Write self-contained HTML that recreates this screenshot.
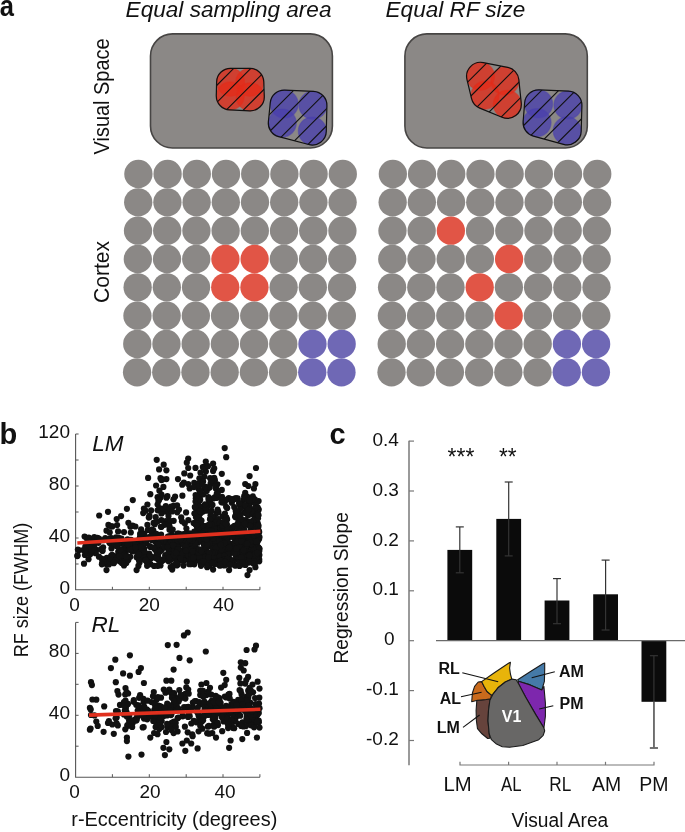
<!DOCTYPE html>
<html lang="en"><head><meta charset="utf-8"><title>Figure</title>
<style>html,body{margin:0;padding:0;background:#fff;}body{width:685px;height:832px;overflow:hidden;font-family:"Liberation Sans",sans-serif;}svg{display:block}</style>
</head><body>
<svg width="685" height="832" viewBox="0 0 685 832" font-family="Liberation Sans, sans-serif">
<text x="-0.3" y="16.2" font-size="29" text-anchor="start" fill="#111" font-weight="bold" textLength="14.2" lengthAdjust="spacingAndGlyphs">a</text>
<text x="125.6" y="16.8" font-size="22.5" text-anchor="start" fill="#111" font-style="italic" textLength="205.9" lengthAdjust="spacingAndGlyphs">Equal sampling area</text>
<text x="385.6" y="16.8" font-size="22.5" text-anchor="start" fill="#111" font-style="italic" textLength="139.8" lengthAdjust="spacingAndGlyphs">Equal RF size</text>
<text x="109.2" y="154.4" font-size="22" text-anchor="start" fill="#111" textLength="116.0" lengthAdjust="spacingAndGlyphs" transform="rotate(-90 109.2 154.4)">Visual Space</text>
<text x="109.5" y="302.9" font-size="22" text-anchor="start" fill="#111" textLength="62.0" lengthAdjust="spacingAndGlyphs" transform="rotate(-90 109.5 302.9)">Cortex</text>
<rect x="150.5" y="33.9" width="181.9" height="114.1" rx="22" ry="22" fill="#8b8886" stroke="#474544" stroke-width="1.6"/>
<rect x="404.9" y="33.9" width="182.4" height="114.1" rx="22" ry="22" fill="#8b8886" stroke="#474544" stroke-width="1.6"/>
<clipPath id="c1"><path d="M216.30,95.59L216.60,81.99A14.0,14.0 0 0 1 230.60,68.30L249.80,68.30A14.0,14.0 0 0 1 263.79,81.82L264.29,96.32A14.0,14.0 0 0 1 249.67,110.79L229.67,109.89A14.0,14.0 0 0 1 216.30,95.59Z"/></clipPath>
<circle cx="230.6" cy="82.3" r="14.0" fill="#e32c1a" fill-opacity="0.78" stroke="#e32c1a" stroke-opacity="0.45" stroke-width="1.2"/>
<circle cx="249.8" cy="82.3" r="14.0" fill="#e32c1a" fill-opacity="0.78" stroke="#e32c1a" stroke-opacity="0.45" stroke-width="1.2"/>
<circle cx="230.3" cy="95.9" r="14.0" fill="#e32c1a" fill-opacity="0.78" stroke="#e32c1a" stroke-opacity="0.45" stroke-width="1.2"/>
<circle cx="250.3" cy="96.8" r="14.0" fill="#e32c1a" fill-opacity="0.78" stroke="#e32c1a" stroke-opacity="0.45" stroke-width="1.2"/>
<g clip-path="url(#c1)" stroke="#111" stroke-width="1.1"><line x1="155.1" y1="112.8" x2="201.6" y2="66.3"/><line x1="172.2" y1="112.8" x2="218.7" y2="66.3"/><line x1="189.3" y1="112.8" x2="235.8" y2="66.3"/><line x1="206.4" y1="112.8" x2="252.9" y2="66.3"/><line x1="223.5" y1="112.8" x2="270.0" y2="66.3"/><line x1="240.6" y1="112.8" x2="287.1" y2="66.3"/><line x1="257.7" y1="112.8" x2="304.2" y2="66.3"/><line x1="274.8" y1="112.8" x2="321.3" y2="66.3"/></g>
<path d="M216.30,95.59L216.60,81.99A14.0,14.0 0 0 1 230.60,68.30L249.80,68.30A14.0,14.0 0 0 1 263.79,81.82L264.29,96.32A14.0,14.0 0 0 1 249.67,110.79L229.67,109.89A14.0,14.0 0 0 1 216.30,95.59Z" fill="none" stroke="#111" stroke-width="1.2"/>
<clipPath id="c2"><path d="M268.37,121.71L270.27,102.71A14.0,14.0 0 0 1 284.78,90.11L313.48,91.31A14.0,14.0 0 0 1 326.90,105.63L326.30,131.33A14.0,14.0 0 0 1 308.73,144.54L278.73,136.64A14.0,14.0 0 0 1 268.37,121.71Z"/></clipPath>
<circle cx="284.2" cy="104.1" r="14.0" fill="#4a40ad" fill-opacity="0.78" stroke="#4a40ad" stroke-opacity="0.45" stroke-width="1.2"/>
<circle cx="312.9" cy="105.3" r="14.0" fill="#4a40ad" fill-opacity="0.78" stroke="#4a40ad" stroke-opacity="0.45" stroke-width="1.2"/>
<circle cx="282.3" cy="123.1" r="14.0" fill="#4a40ad" fill-opacity="0.78" stroke="#4a40ad" stroke-opacity="0.45" stroke-width="1.2"/>
<circle cx="312.3" cy="131.0" r="14.0" fill="#4a40ad" fill-opacity="0.78" stroke="#4a40ad" stroke-opacity="0.45" stroke-width="1.2"/>
<g clip-path="url(#c2)" stroke="#111" stroke-width="1.1"><line x1="202.8" y1="147.0" x2="261.7" y2="88.1"/><line x1="219.9" y1="147.0" x2="278.8" y2="88.1"/><line x1="237.0" y1="147.0" x2="295.9" y2="88.1"/><line x1="254.1" y1="147.0" x2="313.0" y2="88.1"/><line x1="271.2" y1="147.0" x2="330.1" y2="88.1"/><line x1="288.3" y1="147.0" x2="347.2" y2="88.1"/><line x1="305.4" y1="147.0" x2="364.3" y2="88.1"/><line x1="322.5" y1="147.0" x2="381.4" y2="88.1"/><line x1="339.6" y1="147.0" x2="398.5" y2="88.1"/></g>
<path d="M268.37,121.71L270.27,102.71A14.0,14.0 0 0 1 284.78,90.11L313.48,91.31A14.0,14.0 0 0 1 326.90,105.63L326.30,131.33A14.0,14.0 0 0 1 308.73,144.54L278.73,136.64A14.0,14.0 0 0 1 268.37,121.71Z" fill="none" stroke="#111" stroke-width="1.2"/>
<clipPath id="c3"><path d="M483.31,62.57L507.61,67.37A14.0,14.0 0 0 1 518.83,79.66L521.23,102.86A14.0,14.0 0 0 1 501.99,117.25L479.79,108.15A14.0,14.0 0 0 1 471.48,98.44L466.98,79.54A14.0,14.0 0 0 1 483.31,62.57Z"/></clipPath>
<circle cx="480.6" cy="76.3" r="14.0" fill="#e32c1a" fill-opacity="0.78" stroke="#e32c1a" stroke-opacity="0.45" stroke-width="1.2"/>
<circle cx="504.9" cy="81.1" r="14.0" fill="#e32c1a" fill-opacity="0.78" stroke="#e32c1a" stroke-opacity="0.45" stroke-width="1.2"/>
<circle cx="485.1" cy="95.2" r="14.0" fill="#e32c1a" fill-opacity="0.78" stroke="#e32c1a" stroke-opacity="0.45" stroke-width="1.2"/>
<circle cx="507.3" cy="104.3" r="14.0" fill="#e32c1a" fill-opacity="0.78" stroke="#e32c1a" stroke-opacity="0.45" stroke-width="1.2"/>
<g clip-path="url(#c3)" stroke="#111" stroke-width="1.1"><line x1="395.3" y1="120.3" x2="455.3" y2="60.3"/><line x1="412.4" y1="120.3" x2="472.4" y2="60.3"/><line x1="429.5" y1="120.3" x2="489.5" y2="60.3"/><line x1="446.6" y1="120.3" x2="506.6" y2="60.3"/><line x1="463.7" y1="120.3" x2="523.7" y2="60.3"/><line x1="480.8" y1="120.3" x2="540.8" y2="60.3"/><line x1="497.9" y1="120.3" x2="557.9" y2="60.3"/><line x1="515.0" y1="120.3" x2="575.0" y2="60.3"/><line x1="532.1" y1="120.3" x2="592.1" y2="60.3"/></g>
<path d="M483.31,62.57L507.61,67.37A14.0,14.0 0 0 1 518.83,79.66L521.23,102.86A14.0,14.0 0 0 1 501.99,117.25L479.79,108.15A14.0,14.0 0 0 1 471.48,98.44L466.98,79.54A14.0,14.0 0 0 1 483.31,62.57Z" fill="none" stroke="#111" stroke-width="1.2"/>
<clipPath id="c4"><path d="M523.14,121.48L524.64,102.78A14.0,14.0 0 0 1 539.17,89.91L568.47,91.11A14.0,14.0 0 0 1 581.89,105.48L581.19,131.18A14.0,14.0 0 0 1 563.52,144.31L533.42,136.11A14.0,14.0 0 0 1 523.14,121.48Z"/></clipPath>
<circle cx="538.6" cy="103.9" r="14.0" fill="#4a40ad" fill-opacity="0.78" stroke="#4a40ad" stroke-opacity="0.45" stroke-width="1.2"/>
<circle cx="567.9" cy="105.1" r="14.0" fill="#4a40ad" fill-opacity="0.78" stroke="#4a40ad" stroke-opacity="0.45" stroke-width="1.2"/>
<circle cx="537.1" cy="122.6" r="14.0" fill="#4a40ad" fill-opacity="0.78" stroke="#4a40ad" stroke-opacity="0.45" stroke-width="1.2"/>
<circle cx="567.2" cy="130.8" r="14.0" fill="#4a40ad" fill-opacity="0.78" stroke="#4a40ad" stroke-opacity="0.45" stroke-width="1.2"/>
<g clip-path="url(#c4)" stroke="#111" stroke-width="1.1"><line x1="451.0" y1="146.8" x2="509.9" y2="87.9"/><line x1="468.1" y1="146.8" x2="527.0" y2="87.9"/><line x1="485.2" y1="146.8" x2="544.1" y2="87.9"/><line x1="502.3" y1="146.8" x2="561.2" y2="87.9"/><line x1="519.4" y1="146.8" x2="578.3" y2="87.9"/><line x1="536.5" y1="146.8" x2="595.4" y2="87.9"/><line x1="553.6" y1="146.8" x2="612.5" y2="87.9"/><line x1="570.7" y1="146.8" x2="629.6" y2="87.9"/><line x1="587.8" y1="146.8" x2="646.7" y2="87.9"/></g>
<path d="M523.14,121.48L524.64,102.78A14.0,14.0 0 0 1 539.17,89.91L568.47,91.11A14.0,14.0 0 0 1 581.89,105.48L581.19,131.18A14.0,14.0 0 0 1 563.52,144.31L533.42,136.11A14.0,14.0 0 0 1 523.14,121.48Z" fill="none" stroke="#111" stroke-width="1.2"/>
<circle cx="138.40" cy="174.00" r="14.15" fill="#8b8886"/>
<circle cx="167.60" cy="174.00" r="14.15" fill="#8b8886"/>
<circle cx="196.80" cy="174.00" r="14.15" fill="#8b8886"/>
<circle cx="226.00" cy="174.00" r="14.15" fill="#8b8886"/>
<circle cx="255.20" cy="174.00" r="14.15" fill="#8b8886"/>
<circle cx="284.40" cy="174.00" r="14.15" fill="#8b8886"/>
<circle cx="313.60" cy="174.00" r="14.15" fill="#8b8886"/>
<circle cx="342.80" cy="174.00" r="14.15" fill="#8b8886"/>
<circle cx="138.21" cy="202.33" r="14.15" fill="#8b8886"/>
<circle cx="167.41" cy="202.33" r="14.15" fill="#8b8886"/>
<circle cx="196.61" cy="202.33" r="14.15" fill="#8b8886"/>
<circle cx="225.81" cy="202.33" r="14.15" fill="#8b8886"/>
<circle cx="255.01" cy="202.33" r="14.15" fill="#8b8886"/>
<circle cx="284.21" cy="202.33" r="14.15" fill="#8b8886"/>
<circle cx="313.41" cy="202.33" r="14.15" fill="#8b8886"/>
<circle cx="342.61" cy="202.33" r="14.15" fill="#8b8886"/>
<circle cx="138.02" cy="230.66" r="14.15" fill="#8b8886"/>
<circle cx="167.22" cy="230.66" r="14.15" fill="#8b8886"/>
<circle cx="196.42" cy="230.66" r="14.15" fill="#8b8886"/>
<circle cx="225.62" cy="230.66" r="14.15" fill="#8b8886"/>
<circle cx="254.82" cy="230.66" r="14.15" fill="#8b8886"/>
<circle cx="284.02" cy="230.66" r="14.15" fill="#8b8886"/>
<circle cx="313.22" cy="230.66" r="14.15" fill="#8b8886"/>
<circle cx="342.42" cy="230.66" r="14.15" fill="#8b8886"/>
<circle cx="137.83" cy="258.99" r="14.15" fill="#8b8886"/>
<circle cx="167.03" cy="258.99" r="14.15" fill="#8b8886"/>
<circle cx="196.23" cy="258.99" r="14.15" fill="#8b8886"/>
<circle cx="225.43" cy="258.99" r="14.15" fill="#e15546"/>
<circle cx="254.63" cy="258.99" r="14.15" fill="#e15546"/>
<circle cx="283.83" cy="258.99" r="14.15" fill="#8b8886"/>
<circle cx="313.03" cy="258.99" r="14.15" fill="#8b8886"/>
<circle cx="342.23" cy="258.99" r="14.15" fill="#8b8886"/>
<circle cx="137.64" cy="287.32" r="14.15" fill="#8b8886"/>
<circle cx="166.84" cy="287.32" r="14.15" fill="#8b8886"/>
<circle cx="196.04" cy="287.32" r="14.15" fill="#8b8886"/>
<circle cx="225.24" cy="287.32" r="14.15" fill="#e15546"/>
<circle cx="254.44" cy="287.32" r="14.15" fill="#e15546"/>
<circle cx="283.64" cy="287.32" r="14.15" fill="#8b8886"/>
<circle cx="312.84" cy="287.32" r="14.15" fill="#8b8886"/>
<circle cx="342.04" cy="287.32" r="14.15" fill="#8b8886"/>
<circle cx="137.45" cy="315.65" r="14.15" fill="#8b8886"/>
<circle cx="166.65" cy="315.65" r="14.15" fill="#8b8886"/>
<circle cx="195.85" cy="315.65" r="14.15" fill="#8b8886"/>
<circle cx="225.05" cy="315.65" r="14.15" fill="#8b8886"/>
<circle cx="254.25" cy="315.65" r="14.15" fill="#8b8886"/>
<circle cx="283.45" cy="315.65" r="14.15" fill="#8b8886"/>
<circle cx="312.65" cy="315.65" r="14.15" fill="#8b8886"/>
<circle cx="341.85" cy="315.65" r="14.15" fill="#8b8886"/>
<circle cx="137.26" cy="343.98" r="14.15" fill="#8b8886"/>
<circle cx="166.46" cy="343.98" r="14.15" fill="#8b8886"/>
<circle cx="195.66" cy="343.98" r="14.15" fill="#8b8886"/>
<circle cx="224.86" cy="343.98" r="14.15" fill="#8b8886"/>
<circle cx="254.06" cy="343.98" r="14.15" fill="#8b8886"/>
<circle cx="283.26" cy="343.98" r="14.15" fill="#8b8886"/>
<circle cx="312.46" cy="343.98" r="14.15" fill="#6f68b5"/>
<circle cx="341.66" cy="343.98" r="14.15" fill="#6f68b5"/>
<circle cx="137.07" cy="372.31" r="14.15" fill="#8b8886"/>
<circle cx="166.27" cy="372.31" r="14.15" fill="#8b8886"/>
<circle cx="195.47" cy="372.31" r="14.15" fill="#8b8886"/>
<circle cx="224.67" cy="372.31" r="14.15" fill="#8b8886"/>
<circle cx="253.87" cy="372.31" r="14.15" fill="#8b8886"/>
<circle cx="283.07" cy="372.31" r="14.15" fill="#8b8886"/>
<circle cx="312.27" cy="372.31" r="14.15" fill="#6f68b5"/>
<circle cx="341.47" cy="372.31" r="14.15" fill="#6f68b5"/>
<circle cx="392.85" cy="174.00" r="14.15" fill="#8b8886"/>
<circle cx="422.05" cy="174.00" r="14.15" fill="#8b8886"/>
<circle cx="451.25" cy="174.00" r="14.15" fill="#8b8886"/>
<circle cx="480.45" cy="174.00" r="14.15" fill="#8b8886"/>
<circle cx="509.65" cy="174.00" r="14.15" fill="#8b8886"/>
<circle cx="538.85" cy="174.00" r="14.15" fill="#8b8886"/>
<circle cx="568.05" cy="174.00" r="14.15" fill="#8b8886"/>
<circle cx="597.25" cy="174.00" r="14.15" fill="#8b8886"/>
<circle cx="392.66" cy="202.33" r="14.15" fill="#8b8886"/>
<circle cx="421.86" cy="202.33" r="14.15" fill="#8b8886"/>
<circle cx="451.06" cy="202.33" r="14.15" fill="#8b8886"/>
<circle cx="480.26" cy="202.33" r="14.15" fill="#8b8886"/>
<circle cx="509.46" cy="202.33" r="14.15" fill="#8b8886"/>
<circle cx="538.66" cy="202.33" r="14.15" fill="#8b8886"/>
<circle cx="567.86" cy="202.33" r="14.15" fill="#8b8886"/>
<circle cx="597.06" cy="202.33" r="14.15" fill="#8b8886"/>
<circle cx="392.47" cy="230.66" r="14.15" fill="#8b8886"/>
<circle cx="421.67" cy="230.66" r="14.15" fill="#8b8886"/>
<circle cx="450.87" cy="230.66" r="14.15" fill="#e15546"/>
<circle cx="480.07" cy="230.66" r="14.15" fill="#8b8886"/>
<circle cx="509.27" cy="230.66" r="14.15" fill="#8b8886"/>
<circle cx="538.47" cy="230.66" r="14.15" fill="#8b8886"/>
<circle cx="567.67" cy="230.66" r="14.15" fill="#8b8886"/>
<circle cx="596.87" cy="230.66" r="14.15" fill="#8b8886"/>
<circle cx="392.28" cy="258.99" r="14.15" fill="#8b8886"/>
<circle cx="421.48" cy="258.99" r="14.15" fill="#8b8886"/>
<circle cx="450.68" cy="258.99" r="14.15" fill="#8b8886"/>
<circle cx="479.88" cy="258.99" r="14.15" fill="#8b8886"/>
<circle cx="509.08" cy="258.99" r="14.15" fill="#e15546"/>
<circle cx="538.28" cy="258.99" r="14.15" fill="#8b8886"/>
<circle cx="567.48" cy="258.99" r="14.15" fill="#8b8886"/>
<circle cx="596.68" cy="258.99" r="14.15" fill="#8b8886"/>
<circle cx="392.09" cy="287.32" r="14.15" fill="#8b8886"/>
<circle cx="421.29" cy="287.32" r="14.15" fill="#8b8886"/>
<circle cx="450.49" cy="287.32" r="14.15" fill="#8b8886"/>
<circle cx="479.69" cy="287.32" r="14.15" fill="#e15546"/>
<circle cx="508.89" cy="287.32" r="14.15" fill="#8b8886"/>
<circle cx="538.09" cy="287.32" r="14.15" fill="#8b8886"/>
<circle cx="567.29" cy="287.32" r="14.15" fill="#8b8886"/>
<circle cx="596.49" cy="287.32" r="14.15" fill="#8b8886"/>
<circle cx="391.90" cy="315.65" r="14.15" fill="#8b8886"/>
<circle cx="421.10" cy="315.65" r="14.15" fill="#8b8886"/>
<circle cx="450.30" cy="315.65" r="14.15" fill="#8b8886"/>
<circle cx="479.50" cy="315.65" r="14.15" fill="#8b8886"/>
<circle cx="508.70" cy="315.65" r="14.15" fill="#e15546"/>
<circle cx="537.90" cy="315.65" r="14.15" fill="#8b8886"/>
<circle cx="567.10" cy="315.65" r="14.15" fill="#8b8886"/>
<circle cx="596.30" cy="315.65" r="14.15" fill="#8b8886"/>
<circle cx="391.71" cy="343.98" r="14.15" fill="#8b8886"/>
<circle cx="420.91" cy="343.98" r="14.15" fill="#8b8886"/>
<circle cx="450.11" cy="343.98" r="14.15" fill="#8b8886"/>
<circle cx="479.31" cy="343.98" r="14.15" fill="#8b8886"/>
<circle cx="508.51" cy="343.98" r="14.15" fill="#8b8886"/>
<circle cx="537.71" cy="343.98" r="14.15" fill="#8b8886"/>
<circle cx="566.91" cy="343.98" r="14.15" fill="#6f68b5"/>
<circle cx="596.11" cy="343.98" r="14.15" fill="#6f68b5"/>
<circle cx="391.52" cy="372.31" r="14.15" fill="#8b8886"/>
<circle cx="420.72" cy="372.31" r="14.15" fill="#8b8886"/>
<circle cx="449.92" cy="372.31" r="14.15" fill="#8b8886"/>
<circle cx="479.12" cy="372.31" r="14.15" fill="#8b8886"/>
<circle cx="508.32" cy="372.31" r="14.15" fill="#8b8886"/>
<circle cx="537.52" cy="372.31" r="14.15" fill="#8b8886"/>
<circle cx="566.72" cy="372.31" r="14.15" fill="#6f68b5"/>
<circle cx="595.92" cy="372.31" r="14.15" fill="#6f68b5"/>
<text x="-0.6" y="443.6" font-size="29" text-anchor="start" fill="#111" font-weight="bold">b</text>
<path d="M75.6,434.0V589.8H259.9" fill="none" stroke="#555" stroke-width="1.1"/>
<line x1="75.6" y1="434.0" x2="78.6" y2="434.0" stroke="#555" stroke-width="1"/>
<line x1="75.6" y1="460.0" x2="78.6" y2="460.0" stroke="#555" stroke-width="1"/>
<line x1="75.6" y1="486.0" x2="78.6" y2="486.0" stroke="#555" stroke-width="1"/>
<line x1="75.6" y1="512.0" x2="78.6" y2="512.0" stroke="#555" stroke-width="1"/>
<line x1="75.6" y1="538.0" x2="78.6" y2="538.0" stroke="#555" stroke-width="1"/>
<line x1="75.6" y1="564.0" x2="78.6" y2="564.0" stroke="#555" stroke-width="1"/>
<line x1="112.4" y1="589.8" x2="112.4" y2="586.8" stroke="#555" stroke-width="1"/>
<line x1="149.3" y1="589.8" x2="149.3" y2="586.8" stroke="#555" stroke-width="1"/>
<line x1="186.2" y1="589.8" x2="186.2" y2="586.8" stroke="#555" stroke-width="1"/>
<line x1="223.0" y1="589.8" x2="223.0" y2="586.8" stroke="#555" stroke-width="1"/>
<line x1="259.9" y1="589.8" x2="259.9" y2="586.8" stroke="#555" stroke-width="1"/>
<text x="70.0" y="437.5" font-size="19" text-anchor="end" fill="#111">120</text>
<text x="70.0" y="489.5" font-size="19" text-anchor="end" fill="#111">80</text>
<text x="70.0" y="541.5" font-size="19" text-anchor="end" fill="#111">40</text>
<text x="70.0" y="593.5" font-size="19" text-anchor="end" fill="#111">0</text>
<text x="74.5" y="611.3" font-size="19" text-anchor="middle" fill="#111">0</text>
<text x="149.3" y="611.3" font-size="19" text-anchor="middle" fill="#111">20</text>
<text x="223.5" y="611.3" font-size="19" text-anchor="middle" fill="#111">40</text>
<text x="92.3" y="451.2" font-size="22.5" text-anchor="start" fill="#111" font-style="italic">LM</text>
<text x="27.6" y="657.3" font-size="20" text-anchor="start" fill="#111" textLength="134.6" lengthAdjust="spacingAndGlyphs" transform="rotate(-90 27.6 657.3)">RF size (FWHM)</text>
<g fill="#111"><circle cx="224.7" cy="448.1" r="3.1"/><circle cx="226.2" cy="457.2" r="3.1"/><circle cx="156.7" cy="459.8" r="3.1"/><circle cx="188.2" cy="458.6" r="3.1"/><circle cx="186.8" cy="462.7" r="3.1"/><circle cx="188.2" cy="468.0" r="3.1"/><circle cx="205.8" cy="461.5" r="3.1"/><circle cx="213.1" cy="463.6" r="3.1"/><circle cx="204.3" cy="466.5" r="3.1"/><circle cx="256.0" cy="468.0" r="3.1"/><circle cx="159.1" cy="469.4" r="3.1"/><circle cx="166.4" cy="470.3" r="3.1"/><circle cx="213.1" cy="470.9" r="3.1"/><circle cx="221.8" cy="473.8" r="3.1"/><circle cx="249.6" cy="476.1" r="3.1"/><circle cx="204.3" cy="476.7" r="3.1"/><circle cx="160.5" cy="478.2" r="3.1"/><circle cx="166.4" cy="479.1" r="3.1"/><circle cx="178.0" cy="479.1" r="3.1"/><circle cx="210.1" cy="478.2" r="3.1"/><circle cx="183.9" cy="482.6" r="3.1"/><circle cx="188.2" cy="484.0" r="3.1"/><circle cx="198.5" cy="484.0" r="3.1"/><circle cx="227.7" cy="482.6" r="3.1"/><circle cx="245.2" cy="484.0" r="3.1"/><circle cx="255.4" cy="484.0" r="3.1"/><circle cx="156.1" cy="485.5" r="3.1"/><circle cx="163.4" cy="486.9" r="3.1"/><circle cx="189.7" cy="488.4" r="3.1"/><circle cx="204.3" cy="488.4" r="3.1"/><circle cx="216.0" cy="488.4" r="3.1"/><circle cx="221.8" cy="489.9" r="3.1"/><circle cx="150.3" cy="494.2" r="3.1"/><circle cx="157.6" cy="497.2" r="3.1"/><circle cx="182.4" cy="495.7" r="3.1"/><circle cx="132.8" cy="500.1" r="3.1"/><circle cx="245.2" cy="492.8" r="3.1"/><circle cx="253.9" cy="488.4" r="3.1"/><circle cx="147.4" cy="504.5" r="3.1"/><circle cx="157.6" cy="504.5" r="3.1"/><circle cx="173.6" cy="505.9" r="3.1"/><circle cx="170.7" cy="508.8" r="3.1"/><circle cx="126.9" cy="508.8" r="3.1"/><circle cx="108.0" cy="511.8" r="3.1"/><circle cx="157.6" cy="510.3" r="3.1"/><circle cx="99.2" cy="515.5" r="3.1"/><circle cx="121.1" cy="516.1" r="3.1"/><circle cx="116.7" cy="519.1" r="3.1"/><circle cx="128.4" cy="522.8" r="3.1"/><circle cx="148.8" cy="517.6" r="3.1"/><circle cx="147.4" cy="524.9" r="3.1"/><circle cx="112.3" cy="526.4" r="3.1"/><circle cx="106.5" cy="530.7" r="3.1"/><circle cx="84.6" cy="536.6" r="3.1"/><circle cx="78.8" cy="550.3" r="3.1"/><circle cx="77.3" cy="556.1" r="3.1"/><circle cx="84.0" cy="563.7" r="3.1"/><circle cx="106.5" cy="570.1" r="3.1"/><circle cx="136.6" cy="570.1" r="3.1"/><circle cx="172.2" cy="569.6" r="3.1"/><circle cx="170.7" cy="567.2" r="3.1"/><circle cx="157.6" cy="565.8" r="3.1"/><circle cx="213.1" cy="569.6" r="3.1"/><circle cx="229.1" cy="570.1" r="3.1"/><circle cx="247.5" cy="575.1" r="3.1"/><circle cx="249.6" cy="570.1" r="3.1"/><circle cx="255.4" cy="567.2" r="3.1"/><circle cx="189.7" cy="562.8" r="3.1"/><circle cx="207.2" cy="567.2" r="3.1"/><circle cx="135.3" cy="546.9" r="3.1"/><circle cx="143.0" cy="551.1" r="3.1"/><circle cx="88.5" cy="559.2" r="3.1"/><circle cx="98.4" cy="542.8" r="3.1"/><circle cx="233.8" cy="561.2" r="3.1"/><circle cx="226.0" cy="546.7" r="3.1"/><circle cx="193.3" cy="547.8" r="3.1"/><circle cx="87.2" cy="545.7" r="3.1"/><circle cx="154.4" cy="548.8" r="3.1"/><circle cx="159.1" cy="542.7" r="3.1"/><circle cx="204.4" cy="546.9" r="3.1"/><circle cx="216.5" cy="536.9" r="3.1"/><circle cx="185.1" cy="550.8" r="3.1"/><circle cx="230.4" cy="550.2" r="3.1"/><circle cx="198.0" cy="542.7" r="3.1"/><circle cx="227.0" cy="553.2" r="3.1"/><circle cx="198.8" cy="550.6" r="3.1"/><circle cx="106.6" cy="564.2" r="3.1"/><circle cx="226.6" cy="556.7" r="3.1"/><circle cx="152.1" cy="540.1" r="3.1"/><circle cx="252.1" cy="560.1" r="3.1"/><circle cx="118.3" cy="551.8" r="3.1"/><circle cx="251.2" cy="548.9" r="3.1"/><circle cx="189.4" cy="564.2" r="3.1"/><circle cx="219.3" cy="539.5" r="3.1"/><circle cx="147.9" cy="562.9" r="3.1"/><circle cx="87.1" cy="539.0" r="3.1"/><circle cx="114.1" cy="556.0" r="3.1"/><circle cx="85.3" cy="546.7" r="3.1"/><circle cx="142.6" cy="540.4" r="3.1"/><circle cx="188.7" cy="557.6" r="3.1"/><circle cx="139.6" cy="562.4" r="3.1"/><circle cx="258.6" cy="549.9" r="3.1"/><circle cx="91.4" cy="546.0" r="3.1"/><circle cx="138.7" cy="541.7" r="3.1"/><circle cx="105.3" cy="538.1" r="3.1"/><circle cx="255.9" cy="542.9" r="3.1"/><circle cx="123.7" cy="561.1" r="3.1"/><circle cx="217.8" cy="540.1" r="3.1"/><circle cx="136.3" cy="542.2" r="3.1"/><circle cx="257.1" cy="539.2" r="3.1"/><circle cx="226.4" cy="558.4" r="3.1"/><circle cx="127.1" cy="545.7" r="3.1"/><circle cx="251.8" cy="534.9" r="3.1"/><circle cx="251.6" cy="558.6" r="3.1"/><circle cx="117.4" cy="560.0" r="3.1"/><circle cx="230.5" cy="544.3" r="3.1"/><circle cx="222.9" cy="544.1" r="3.1"/><circle cx="243.2" cy="541.1" r="3.1"/><circle cx="163.7" cy="542.9" r="3.1"/><circle cx="254.6" cy="552.6" r="3.1"/><circle cx="250.0" cy="560.3" r="3.1"/><circle cx="99.0" cy="538.7" r="3.1"/><circle cx="256.2" cy="554.3" r="3.1"/><circle cx="176.7" cy="565.5" r="3.1"/><circle cx="195.3" cy="535.0" r="3.1"/><circle cx="236.2" cy="559.0" r="3.1"/><circle cx="122.0" cy="558.9" r="3.1"/><circle cx="183.7" cy="552.1" r="3.1"/><circle cx="140.8" cy="548.9" r="3.1"/><circle cx="242.2" cy="535.5" r="3.1"/><circle cx="168.0" cy="548.6" r="3.1"/><circle cx="109.3" cy="542.6" r="3.1"/><circle cx="209.2" cy="555.1" r="3.1"/><circle cx="171.1" cy="540.0" r="3.1"/><circle cx="121.4" cy="543.4" r="3.1"/><circle cx="169.1" cy="540.8" r="3.1"/><circle cx="243.7" cy="545.6" r="3.1"/><circle cx="168.7" cy="543.0" r="3.1"/><circle cx="220.0" cy="560.8" r="3.1"/><circle cx="207.5" cy="561.2" r="3.1"/><circle cx="149.0" cy="537.0" r="3.1"/><circle cx="170.6" cy="559.5" r="3.1"/><circle cx="156.8" cy="556.3" r="3.1"/><circle cx="190.6" cy="563.8" r="3.1"/><circle cx="125.4" cy="553.6" r="3.1"/><circle cx="243.5" cy="557.4" r="3.1"/><circle cx="202.4" cy="563.5" r="3.1"/><circle cx="192.5" cy="563.2" r="3.1"/><circle cx="159.2" cy="549.8" r="3.1"/><circle cx="119.5" cy="561.2" r="3.1"/><circle cx="84.9" cy="555.0" r="3.1"/><circle cx="133.1" cy="543.7" r="3.1"/><circle cx="177.1" cy="550.2" r="3.1"/><circle cx="247.8" cy="538.8" r="3.1"/><circle cx="155.2" cy="541.5" r="3.1"/><circle cx="205.8" cy="552.5" r="3.1"/><circle cx="212.1" cy="560.5" r="3.1"/><circle cx="236.0" cy="556.6" r="3.1"/><circle cx="120.2" cy="552.5" r="3.1"/><circle cx="254.8" cy="557.8" r="3.1"/><circle cx="253.5" cy="554.1" r="3.1"/><circle cx="163.1" cy="560.1" r="3.1"/><circle cx="168.6" cy="557.2" r="3.1"/><circle cx="83.3" cy="550.0" r="3.1"/><circle cx="183.5" cy="541.1" r="3.1"/><circle cx="196.8" cy="536.8" r="3.1"/><circle cx="209.0" cy="564.5" r="3.1"/><circle cx="239.9" cy="541.6" r="3.1"/><circle cx="225.3" cy="548.6" r="3.1"/><circle cx="168.5" cy="539.3" r="3.1"/><circle cx="227.9" cy="536.4" r="3.1"/><circle cx="201.4" cy="558.3" r="3.1"/><circle cx="142.1" cy="541.5" r="3.1"/><circle cx="178.5" cy="545.2" r="3.1"/><circle cx="201.0" cy="565.8" r="3.1"/><circle cx="213.5" cy="548.2" r="3.1"/><circle cx="197.1" cy="541.5" r="3.1"/><circle cx="122.1" cy="558.2" r="3.1"/><circle cx="210.0" cy="541.4" r="3.1"/><circle cx="255.4" cy="553.3" r="3.1"/><circle cx="216.9" cy="544.6" r="3.1"/><circle cx="89.9" cy="543.9" r="3.1"/><circle cx="77.9" cy="549.5" r="3.1"/><circle cx="203.1" cy="556.3" r="3.1"/><circle cx="170.8" cy="550.5" r="3.1"/><circle cx="248.1" cy="550.7" r="3.1"/><circle cx="158.4" cy="559.8" r="3.1"/><circle cx="249.8" cy="546.7" r="3.1"/><circle cx="251.1" cy="538.8" r="3.1"/><circle cx="205.2" cy="536.2" r="3.1"/><circle cx="230.2" cy="535.2" r="3.1"/><circle cx="241.7" cy="553.6" r="3.1"/><circle cx="184.2" cy="551.8" r="3.1"/><circle cx="126.3" cy="563.0" r="3.1"/><circle cx="121.5" cy="551.0" r="3.1"/><circle cx="110.6" cy="538.0" r="3.1"/><circle cx="225.2" cy="535.7" r="3.1"/><circle cx="248.9" cy="542.1" r="3.1"/><circle cx="194.3" cy="564.3" r="3.1"/><circle cx="138.9" cy="544.3" r="3.1"/><circle cx="255.5" cy="544.2" r="3.1"/><circle cx="148.3" cy="561.2" r="3.1"/><circle cx="167.2" cy="539.4" r="3.1"/><circle cx="259.2" cy="561.3" r="3.1"/><circle cx="111.1" cy="555.9" r="3.1"/><circle cx="92.4" cy="538.8" r="3.1"/><circle cx="239.1" cy="552.3" r="3.1"/><circle cx="253.9" cy="549.3" r="3.1"/><circle cx="191.6" cy="558.8" r="3.1"/><circle cx="125.5" cy="554.3" r="3.1"/><circle cx="206.3" cy="550.3" r="3.1"/><circle cx="183.8" cy="553.0" r="3.1"/><circle cx="246.4" cy="537.6" r="3.1"/><circle cx="171.8" cy="534.7" r="3.1"/><circle cx="194.9" cy="550.8" r="3.1"/><circle cx="177.2" cy="540.0" r="3.1"/><circle cx="172.2" cy="553.1" r="3.1"/><circle cx="194.4" cy="550.2" r="3.1"/><circle cx="118.9" cy="537.9" r="3.1"/><circle cx="132.2" cy="551.4" r="3.1"/><circle cx="199.9" cy="557.4" r="3.1"/><circle cx="117.4" cy="556.1" r="3.1"/><circle cx="211.8" cy="559.1" r="3.1"/><circle cx="254.3" cy="538.8" r="3.1"/><circle cx="118.1" cy="543.7" r="3.1"/><circle cx="166.9" cy="559.4" r="3.1"/><circle cx="250.4" cy="552.9" r="3.1"/><circle cx="241.1" cy="541.7" r="3.1"/><circle cx="259.4" cy="555.0" r="3.1"/><circle cx="213.1" cy="543.9" r="3.1"/><circle cx="145.4" cy="556.2" r="3.1"/><circle cx="106.8" cy="557.8" r="3.1"/><circle cx="113.8" cy="541.9" r="3.1"/><circle cx="111.2" cy="539.7" r="3.1"/><circle cx="241.2" cy="556.9" r="3.1"/><circle cx="252.1" cy="557.3" r="3.1"/><circle cx="207.6" cy="556.8" r="3.1"/><circle cx="251.9" cy="553.1" r="3.1"/><circle cx="121.9" cy="551.5" r="3.1"/><circle cx="246.6" cy="539.3" r="3.1"/><circle cx="211.7" cy="540.3" r="3.1"/><circle cx="187.5" cy="555.4" r="3.1"/><circle cx="90.2" cy="548.3" r="3.1"/><circle cx="87.5" cy="553.3" r="3.1"/><circle cx="177.4" cy="533.5" r="3.1"/><circle cx="158.0" cy="553.8" r="3.1"/><circle cx="189.9" cy="541.2" r="3.1"/><circle cx="231.7" cy="561.9" r="3.1"/><circle cx="112.3" cy="558.8" r="3.1"/><circle cx="182.1" cy="552.8" r="3.1"/><circle cx="258.5" cy="558.3" r="3.1"/><circle cx="97.6" cy="539.9" r="3.1"/><circle cx="247.0" cy="537.2" r="3.1"/><circle cx="158.3" cy="543.2" r="3.1"/><circle cx="249.8" cy="546.2" r="3.1"/><circle cx="189.8" cy="553.7" r="3.1"/><circle cx="101.6" cy="558.5" r="3.1"/><circle cx="186.0" cy="559.2" r="3.1"/><circle cx="200.6" cy="555.6" r="3.1"/><circle cx="203.7" cy="556.6" r="3.1"/><circle cx="141.4" cy="540.7" r="3.1"/><circle cx="259.2" cy="559.4" r="3.1"/><circle cx="209.7" cy="565.8" r="3.1"/><circle cx="160.5" cy="565.5" r="3.1"/><circle cx="102.5" cy="550.7" r="3.1"/><circle cx="246.1" cy="549.7" r="3.1"/><circle cx="112.0" cy="538.4" r="3.1"/><circle cx="242.2" cy="538.6" r="3.1"/><circle cx="116.5" cy="541.2" r="3.1"/><circle cx="228.4" cy="558.7" r="3.1"/><circle cx="146.3" cy="558.7" r="3.1"/><circle cx="209.2" cy="564.6" r="3.1"/><circle cx="215.2" cy="538.2" r="3.1"/><circle cx="176.9" cy="555.8" r="3.1"/><circle cx="157.9" cy="565.3" r="3.1"/><circle cx="165.8" cy="543.6" r="3.1"/><circle cx="219.3" cy="560.0" r="3.1"/><circle cx="169.6" cy="544.9" r="3.1"/><circle cx="259.1" cy="538.9" r="3.1"/><circle cx="244.4" cy="539.8" r="3.1"/><circle cx="247.1" cy="554.3" r="3.1"/><circle cx="214.9" cy="536.2" r="3.1"/><circle cx="245.1" cy="557.2" r="3.1"/><circle cx="200.8" cy="560.4" r="3.1"/><circle cx="220.2" cy="548.4" r="3.1"/><circle cx="192.8" cy="537.0" r="3.1"/><circle cx="177.9" cy="536.7" r="3.1"/><circle cx="191.6" cy="539.5" r="3.1"/><circle cx="182.0" cy="540.6" r="3.1"/><circle cx="157.1" cy="544.2" r="3.1"/><circle cx="256.9" cy="543.9" r="3.1"/><circle cx="189.1" cy="549.0" r="3.1"/><circle cx="240.6" cy="558.4" r="3.1"/><circle cx="184.1" cy="545.3" r="3.1"/><circle cx="103.1" cy="547.3" r="3.1"/><circle cx="236.1" cy="552.6" r="3.1"/><circle cx="124.3" cy="547.1" r="3.1"/><circle cx="179.2" cy="544.5" r="3.1"/><circle cx="210.8" cy="536.0" r="3.1"/><circle cx="150.4" cy="564.2" r="3.1"/><circle cx="249.0" cy="559.3" r="3.1"/><circle cx="187.6" cy="544.7" r="3.1"/><circle cx="225.5" cy="555.7" r="3.1"/><circle cx="130.9" cy="539.9" r="3.1"/><circle cx="219.9" cy="565.7" r="3.1"/><circle cx="212.9" cy="541.4" r="3.1"/><circle cx="213.7" cy="537.9" r="3.1"/><circle cx="206.7" cy="547.6" r="3.1"/><circle cx="172.0" cy="544.7" r="3.1"/><circle cx="253.4" cy="536.8" r="3.1"/><circle cx="249.7" cy="555.1" r="3.1"/><circle cx="237.8" cy="558.0" r="3.1"/><circle cx="242.8" cy="543.0" r="3.1"/><circle cx="204.1" cy="551.5" r="3.1"/><circle cx="209.1" cy="555.7" r="3.1"/><circle cx="102.2" cy="562.8" r="3.1"/><circle cx="203.2" cy="542.8" r="3.1"/><circle cx="211.4" cy="546.4" r="3.1"/><circle cx="226.6" cy="563.8" r="3.1"/><circle cx="96.2" cy="549.9" r="3.1"/><circle cx="231.8" cy="544.9" r="3.1"/><circle cx="227.6" cy="556.4" r="3.1"/><circle cx="94.0" cy="548.2" r="3.1"/><circle cx="143.4" cy="537.8" r="3.1"/><circle cx="174.7" cy="537.4" r="3.1"/><circle cx="107.0" cy="560.0" r="3.1"/><circle cx="127.9" cy="545.5" r="3.1"/><circle cx="167.4" cy="547.3" r="3.1"/><circle cx="204.1" cy="545.1" r="3.1"/><circle cx="141.1" cy="554.4" r="3.1"/><circle cx="239.7" cy="536.5" r="3.1"/><circle cx="167.9" cy="536.6" r="3.1"/><circle cx="173.5" cy="541.0" r="3.1"/><circle cx="194.7" cy="555.1" r="3.1"/><circle cx="197.6" cy="560.3" r="3.1"/><circle cx="182.3" cy="550.6" r="3.1"/><circle cx="238.7" cy="559.6" r="3.1"/><circle cx="231.0" cy="560.8" r="3.1"/><circle cx="121.2" cy="550.7" r="3.1"/><circle cx="105.3" cy="560.4" r="3.1"/><circle cx="255.3" cy="562.6" r="3.1"/><circle cx="256.9" cy="541.6" r="3.1"/><circle cx="155.7" cy="547.3" r="3.1"/><circle cx="95.3" cy="552.8" r="3.1"/><circle cx="147.2" cy="554.3" r="3.1"/><circle cx="221.3" cy="549.4" r="3.1"/><circle cx="192.1" cy="561.2" r="3.1"/><circle cx="186.8" cy="541.4" r="3.1"/><circle cx="242.9" cy="546.9" r="3.1"/><circle cx="213.6" cy="558.4" r="3.1"/><circle cx="208.7" cy="540.3" r="3.1"/><circle cx="204.6" cy="543.4" r="3.1"/><circle cx="193.8" cy="555.6" r="3.1"/><circle cx="191.4" cy="552.0" r="3.1"/><circle cx="219.8" cy="545.1" r="3.1"/><circle cx="121.7" cy="552.6" r="3.1"/><circle cx="190.1" cy="543.6" r="3.1"/><circle cx="247.0" cy="544.3" r="3.1"/><circle cx="219.0" cy="549.7" r="3.1"/><circle cx="255.2" cy="547.9" r="3.1"/><circle cx="248.9" cy="562.6" r="3.1"/><circle cx="175.3" cy="549.0" r="3.1"/><circle cx="193.4" cy="548.7" r="3.1"/><circle cx="141.1" cy="557.9" r="3.1"/><circle cx="149.2" cy="553.7" r="3.1"/><circle cx="140.5" cy="559.4" r="3.1"/><circle cx="172.7" cy="539.4" r="3.1"/><circle cx="147.8" cy="562.2" r="3.1"/><circle cx="224.8" cy="550.4" r="3.1"/><circle cx="193.3" cy="538.9" r="3.1"/><circle cx="161.8" cy="549.9" r="3.1"/><circle cx="124.9" cy="558.5" r="3.1"/><circle cx="154.1" cy="565.9" r="3.1"/><circle cx="127.4" cy="557.1" r="3.1"/><circle cx="164.0" cy="547.3" r="3.1"/><circle cx="197.1" cy="535.2" r="3.1"/><circle cx="242.5" cy="561.3" r="3.1"/><circle cx="251.0" cy="557.7" r="3.1"/><circle cx="94.3" cy="547.2" r="3.1"/><circle cx="139.4" cy="539.5" r="3.1"/><circle cx="221.5" cy="536.4" r="3.1"/><circle cx="187.7" cy="543.8" r="3.1"/><circle cx="240.3" cy="538.1" r="3.1"/><circle cx="173.4" cy="551.4" r="3.1"/><circle cx="238.2" cy="557.2" r="3.1"/><circle cx="118.7" cy="551.5" r="3.1"/><circle cx="234.6" cy="538.1" r="3.1"/><circle cx="198.2" cy="553.5" r="3.1"/><circle cx="192.8" cy="545.7" r="3.1"/><circle cx="169.7" cy="536.2" r="3.1"/><circle cx="190.8" cy="537.4" r="3.1"/><circle cx="143.1" cy="550.6" r="3.1"/><circle cx="217.6" cy="551.5" r="3.1"/><circle cx="227.9" cy="538.5" r="3.1"/><circle cx="255.2" cy="539.7" r="3.1"/><circle cx="136.6" cy="557.2" r="3.1"/><circle cx="183.7" cy="540.0" r="3.1"/><circle cx="245.4" cy="544.1" r="3.1"/><circle cx="221.0" cy="545.7" r="3.1"/><circle cx="189.2" cy="542.9" r="3.1"/><circle cx="185.5" cy="558.9" r="3.1"/><circle cx="198.5" cy="540.7" r="3.1"/><circle cx="94.3" cy="537.2" r="3.1"/><circle cx="244.0" cy="553.7" r="3.1"/><circle cx="227.2" cy="547.3" r="3.1"/><circle cx="123.1" cy="553.6" r="3.1"/><circle cx="134.3" cy="547.2" r="3.1"/><circle cx="247.7" cy="547.1" r="3.1"/><circle cx="224.9" cy="535.5" r="3.1"/><circle cx="157.9" cy="554.6" r="3.1"/><circle cx="256.3" cy="552.3" r="3.1"/><circle cx="235.8" cy="565.4" r="3.1"/><circle cx="110.1" cy="543.3" r="3.1"/><circle cx="207.1" cy="541.8" r="3.1"/><circle cx="210.0" cy="537.4" r="3.1"/><circle cx="165.2" cy="555.2" r="3.1"/><circle cx="181.5" cy="543.5" r="3.1"/><circle cx="191.6" cy="553.2" r="3.1"/><circle cx="220.2" cy="556.3" r="3.1"/><circle cx="205.2" cy="554.9" r="3.1"/><circle cx="228.8" cy="555.7" r="3.1"/><circle cx="225.9" cy="564.5" r="3.1"/><circle cx="225.2" cy="547.0" r="3.1"/><circle cx="224.3" cy="535.7" r="3.1"/><circle cx="139.5" cy="549.8" r="3.1"/><circle cx="222.5" cy="541.1" r="3.1"/><circle cx="247.3" cy="545.8" r="3.1"/><circle cx="200.5" cy="559.1" r="3.1"/><circle cx="221.5" cy="563.0" r="3.1"/><circle cx="217.9" cy="546.7" r="3.1"/><circle cx="240.9" cy="548.7" r="3.1"/><circle cx="110.5" cy="560.7" r="3.1"/><circle cx="204.8" cy="547.2" r="3.1"/><circle cx="220.7" cy="546.2" r="3.1"/><circle cx="108.9" cy="564.5" r="3.1"/><circle cx="236.0" cy="534.6" r="3.1"/><circle cx="179.6" cy="534.2" r="3.1"/><circle cx="148.0" cy="561.3" r="3.1"/><circle cx="116.5" cy="558.5" r="3.1"/><circle cx="242.3" cy="564.4" r="3.1"/><circle cx="248.7" cy="556.0" r="3.1"/><circle cx="123.0" cy="551.9" r="3.1"/><circle cx="106.7" cy="561.8" r="3.1"/><circle cx="247.7" cy="536.5" r="3.1"/><circle cx="230.8" cy="551.0" r="3.1"/><circle cx="101.9" cy="564.3" r="3.1"/><circle cx="177.6" cy="537.1" r="3.1"/><circle cx="124.7" cy="561.4" r="3.1"/><circle cx="137.2" cy="551.6" r="3.1"/><circle cx="198.7" cy="550.1" r="3.1"/><circle cx="128.3" cy="560.1" r="3.1"/><circle cx="240.7" cy="541.9" r="3.1"/><circle cx="138.4" cy="565.9" r="3.1"/><circle cx="172.6" cy="551.5" r="3.1"/><circle cx="243.6" cy="547.0" r="3.1"/><circle cx="101.0" cy="549.2" r="3.1"/><circle cx="217.6" cy="559.4" r="3.1"/><circle cx="90.2" cy="554.3" r="3.1"/><circle cx="126.1" cy="548.0" r="3.1"/><circle cx="206.0" cy="546.6" r="3.1"/><circle cx="112.9" cy="544.5" r="3.1"/><circle cx="234.9" cy="565.4" r="3.1"/><circle cx="124.7" cy="541.6" r="3.1"/><circle cx="143.2" cy="555.1" r="3.1"/><circle cx="185.2" cy="548.7" r="3.1"/><circle cx="226.0" cy="555.3" r="3.1"/><circle cx="206.6" cy="541.0" r="3.1"/><circle cx="251.4" cy="548.9" r="3.1"/><circle cx="173.3" cy="565.3" r="3.1"/><circle cx="226.2" cy="562.8" r="3.1"/><circle cx="111.5" cy="548.4" r="3.1"/><circle cx="181.8" cy="542.7" r="3.1"/><circle cx="234.3" cy="547.0" r="3.1"/><circle cx="213.2" cy="538.6" r="3.1"/><circle cx="248.3" cy="552.0" r="3.1"/><circle cx="230.3" cy="552.8" r="3.1"/><circle cx="249.0" cy="554.7" r="3.1"/><circle cx="119.9" cy="553.2" r="3.1"/><circle cx="256.4" cy="535.7" r="3.1"/><circle cx="252.1" cy="557.7" r="3.1"/><circle cx="168.6" cy="561.3" r="3.1"/><circle cx="254.3" cy="534.9" r="3.1"/><circle cx="224.7" cy="536.6" r="3.1"/><circle cx="245.9" cy="557.6" r="3.1"/><circle cx="251.8" cy="557.1" r="3.1"/><circle cx="150.5" cy="558.8" r="3.1"/><circle cx="230.3" cy="547.0" r="3.1"/><circle cx="195.4" cy="542.4" r="3.1"/><circle cx="188.5" cy="555.7" r="3.1"/><circle cx="120.2" cy="551.0" r="3.1"/><circle cx="234.4" cy="547.5" r="3.1"/><circle cx="217.9" cy="563.7" r="3.1"/><circle cx="156.7" cy="554.6" r="3.1"/><circle cx="95.7" cy="553.2" r="3.1"/><circle cx="252.4" cy="560.8" r="3.1"/><circle cx="137.7" cy="546.2" r="3.1"/><circle cx="189.2" cy="538.7" r="3.1"/><circle cx="171.0" cy="541.3" r="3.1"/><circle cx="215.6" cy="539.9" r="3.1"/><circle cx="183.5" cy="534.0" r="3.1"/><circle cx="236.4" cy="553.4" r="3.1"/><circle cx="158.9" cy="544.8" r="3.1"/><circle cx="129.6" cy="549.7" r="3.1"/><circle cx="146.4" cy="542.9" r="3.1"/><circle cx="232.1" cy="551.2" r="3.1"/><circle cx="109.5" cy="561.7" r="3.1"/><circle cx="182.8" cy="535.4" r="3.1"/><circle cx="113.2" cy="539.3" r="3.1"/><circle cx="77.6" cy="555.4" r="3.1"/><circle cx="245.2" cy="548.1" r="3.1"/><circle cx="259.5" cy="548.8" r="3.1"/><circle cx="201.9" cy="554.1" r="3.1"/><circle cx="185.2" cy="534.5" r="3.1"/><circle cx="172.4" cy="553.5" r="3.1"/><circle cx="253.3" cy="551.4" r="3.1"/><circle cx="225.9" cy="555.4" r="3.1"/><circle cx="255.9" cy="549.0" r="3.1"/><circle cx="202.7" cy="533.1" r="3.1"/><circle cx="153.1" cy="557.5" r="3.1"/><circle cx="169.9" cy="559.7" r="3.1"/><circle cx="186.7" cy="533.0" r="3.1"/><circle cx="220.7" cy="543.1" r="3.1"/><circle cx="230.8" cy="543.8" r="3.1"/><circle cx="177.5" cy="544.5" r="3.1"/><circle cx="171.9" cy="545.6" r="3.1"/><circle cx="224.2" cy="565.5" r="3.1"/><circle cx="140.8" cy="558.2" r="3.1"/><circle cx="182.9" cy="551.0" r="3.1"/><circle cx="146.7" cy="539.9" r="3.1"/><circle cx="121.5" cy="538.7" r="3.1"/><circle cx="225.9" cy="546.0" r="3.1"/><circle cx="116.4" cy="540.3" r="3.1"/><circle cx="120.4" cy="555.5" r="3.1"/><circle cx="227.8" cy="557.8" r="3.1"/><circle cx="110.8" cy="559.0" r="3.1"/><circle cx="138.5" cy="545.3" r="3.1"/><circle cx="229.5" cy="551.3" r="3.1"/><circle cx="229.7" cy="560.7" r="3.1"/><circle cx="168.6" cy="550.9" r="3.1"/><circle cx="183.9" cy="557.8" r="3.1"/><circle cx="187.7" cy="537.0" r="3.1"/><circle cx="175.6" cy="540.4" r="3.1"/><circle cx="180.2" cy="553.0" r="3.1"/><circle cx="91.5" cy="551.4" r="3.1"/><circle cx="232.4" cy="544.0" r="3.1"/><circle cx="130.3" cy="556.8" r="3.1"/><circle cx="117.3" cy="545.0" r="3.1"/><circle cx="127.6" cy="539.4" r="3.1"/><circle cx="218.4" cy="537.4" r="3.1"/><circle cx="197.9" cy="552.3" r="3.1"/><circle cx="197.0" cy="557.7" r="3.1"/><circle cx="231.6" cy="545.1" r="3.1"/><circle cx="109.1" cy="539.3" r="3.1"/><circle cx="112.1" cy="554.8" r="3.1"/><circle cx="193.2" cy="538.1" r="3.1"/><circle cx="180.7" cy="557.5" r="3.1"/><circle cx="139.9" cy="541.5" r="3.1"/><circle cx="218.7" cy="564.5" r="3.1"/><circle cx="187.5" cy="557.8" r="3.1"/><circle cx="213.7" cy="542.9" r="3.1"/><circle cx="228.3" cy="563.0" r="3.1"/><circle cx="203.0" cy="538.4" r="3.1"/><circle cx="191.3" cy="564.1" r="3.1"/><circle cx="246.6" cy="540.7" r="3.1"/><circle cx="224.1" cy="547.8" r="3.1"/><circle cx="254.2" cy="547.9" r="3.1"/><circle cx="121.6" cy="555.5" r="3.1"/><circle cx="151.4" cy="556.9" r="3.1"/><circle cx="199.1" cy="557.9" r="3.1"/><circle cx="176.6" cy="560.3" r="3.1"/><circle cx="198.4" cy="550.7" r="3.1"/><circle cx="158.1" cy="556.5" r="3.1"/><circle cx="162.0" cy="561.0" r="3.1"/><circle cx="88.8" cy="537.6" r="3.1"/><circle cx="155.6" cy="550.1" r="3.1"/><circle cx="194.4" cy="534.9" r="3.1"/><circle cx="218.3" cy="556.1" r="3.1"/><circle cx="231.4" cy="560.4" r="3.1"/><circle cx="220.2" cy="541.3" r="3.1"/><circle cx="135.8" cy="541.8" r="3.1"/><circle cx="134.6" cy="549.8" r="3.1"/><circle cx="119.7" cy="549.4" r="3.1"/><circle cx="191.3" cy="542.6" r="3.1"/><circle cx="242.4" cy="549.6" r="3.1"/><circle cx="167.6" cy="557.2" r="3.1"/><circle cx="182.7" cy="543.1" r="3.1"/><circle cx="233.2" cy="551.8" r="3.1"/><circle cx="170.4" cy="554.7" r="3.1"/><circle cx="227.8" cy="560.5" r="3.1"/><circle cx="130.1" cy="549.5" r="3.1"/><circle cx="243.0" cy="533.6" r="3.1"/><circle cx="189.8" cy="564.0" r="3.1"/><circle cx="187.8" cy="547.0" r="3.1"/><circle cx="251.2" cy="544.5" r="3.1"/><circle cx="130.7" cy="540.1" r="3.1"/><circle cx="200.6" cy="563.1" r="3.1"/><circle cx="239.6" cy="562.2" r="3.1"/><circle cx="122.3" cy="550.4" r="3.1"/><circle cx="177.7" cy="547.0" r="3.1"/><circle cx="184.0" cy="552.4" r="3.1"/><circle cx="234.7" cy="542.3" r="3.1"/><circle cx="215.1" cy="533.1" r="3.1"/><circle cx="147.8" cy="537.9" r="3.1"/><circle cx="218.4" cy="540.2" r="3.1"/><circle cx="86.2" cy="548.9" r="3.1"/><circle cx="144.2" cy="548.6" r="3.1"/><circle cx="114.9" cy="545.3" r="3.1"/><circle cx="190.1" cy="547.3" r="3.1"/><circle cx="244.7" cy="560.4" r="3.1"/><circle cx="212.9" cy="540.6" r="3.1"/><circle cx="208.6" cy="545.9" r="3.1"/><circle cx="223.6" cy="535.3" r="3.1"/><circle cx="122.5" cy="552.9" r="3.1"/><circle cx="145.8" cy="540.3" r="3.1"/><circle cx="174.8" cy="539.2" r="3.1"/><circle cx="250.4" cy="554.6" r="3.1"/><circle cx="226.4" cy="552.9" r="3.1"/><circle cx="163.3" cy="541.2" r="3.1"/><circle cx="188.1" cy="555.0" r="3.1"/><circle cx="184.2" cy="560.3" r="3.1"/><circle cx="142.1" cy="549.1" r="3.1"/><circle cx="147.1" cy="565.8" r="3.1"/><circle cx="137.1" cy="552.5" r="3.1"/><circle cx="257.3" cy="561.1" r="3.1"/><circle cx="199.2" cy="556.9" r="3.1"/><circle cx="167.7" cy="547.1" r="3.1"/><circle cx="258.4" cy="547.4" r="3.1"/><circle cx="217.6" cy="540.3" r="3.1"/><circle cx="192.2" cy="553.9" r="3.1"/><circle cx="236.4" cy="543.4" r="3.1"/><circle cx="211.9" cy="544.9" r="3.1"/><circle cx="150.4" cy="556.1" r="3.1"/><circle cx="164.3" cy="558.8" r="3.1"/><circle cx="236.1" cy="551.2" r="3.1"/><circle cx="180.4" cy="560.4" r="3.1"/><circle cx="183.1" cy="560.0" r="3.1"/><circle cx="241.3" cy="557.4" r="3.1"/><circle cx="115.8" cy="560.1" r="3.1"/><circle cx="186.7" cy="544.5" r="3.1"/><circle cx="253.1" cy="563.3" r="3.1"/><circle cx="114.7" cy="544.0" r="3.1"/><circle cx="195.2" cy="543.4" r="3.1"/><circle cx="137.8" cy="553.8" r="3.1"/><circle cx="185.8" cy="550.6" r="3.1"/><circle cx="184.0" cy="544.2" r="3.1"/><circle cx="186.4" cy="541.4" r="3.1"/><circle cx="216.2" cy="555.7" r="3.1"/><circle cx="159.1" cy="550.6" r="3.1"/><circle cx="196.4" cy="553.9" r="3.1"/><circle cx="257.9" cy="540.9" r="3.1"/><circle cx="92.2" cy="546.9" r="3.1"/><circle cx="168.1" cy="559.9" r="3.1"/><circle cx="248.7" cy="561.0" r="3.1"/><circle cx="245.4" cy="565.0" r="3.1"/><circle cx="160.4" cy="539.5" r="3.1"/><circle cx="249.7" cy="558.5" r="3.1"/><circle cx="122.0" cy="553.3" r="3.1"/><circle cx="118.2" cy="543.7" r="3.1"/><circle cx="180.5" cy="537.3" r="3.1"/><circle cx="235.8" cy="541.0" r="3.1"/><circle cx="227.2" cy="555.0" r="3.1"/><circle cx="185.7" cy="546.7" r="3.1"/><circle cx="238.3" cy="536.7" r="3.1"/><circle cx="234.7" cy="537.3" r="3.1"/><circle cx="255.1" cy="535.7" r="3.1"/><circle cx="93.6" cy="546.7" r="3.1"/><circle cx="201.4" cy="554.7" r="3.1"/><circle cx="244.8" cy="536.7" r="3.1"/><circle cx="256.1" cy="558.2" r="3.1"/><circle cx="258.2" cy="536.8" r="3.1"/><circle cx="167.9" cy="554.2" r="3.1"/><circle cx="140.0" cy="537.7" r="3.1"/><circle cx="210.4" cy="560.1" r="3.1"/><circle cx="142.4" cy="545.8" r="3.1"/><circle cx="195.9" cy="547.8" r="3.1"/><circle cx="236.6" cy="552.7" r="3.1"/><circle cx="146.6" cy="561.8" r="3.1"/><circle cx="246.3" cy="545.7" r="3.1"/><circle cx="145.1" cy="560.1" r="3.1"/><circle cx="220.0" cy="564.3" r="3.1"/><circle cx="213.1" cy="549.0" r="3.1"/><circle cx="212.6" cy="542.3" r="3.1"/><circle cx="188.5" cy="555.3" r="3.1"/><circle cx="191.5" cy="558.5" r="3.1"/><circle cx="188.5" cy="535.8" r="3.1"/><circle cx="171.8" cy="558.6" r="3.1"/><circle cx="173.0" cy="548.5" r="3.1"/><circle cx="225.5" cy="560.2" r="3.1"/><circle cx="227.0" cy="544.7" r="3.1"/><circle cx="228.1" cy="537.2" r="3.1"/><circle cx="121.9" cy="555.5" r="3.1"/><circle cx="223.6" cy="550.9" r="3.1"/><circle cx="259.3" cy="551.1" r="3.1"/><circle cx="215.4" cy="543.4" r="3.1"/><circle cx="119.4" cy="556.0" r="3.1"/><circle cx="145.8" cy="560.1" r="3.1"/><circle cx="180.7" cy="560.0" r="3.1"/><circle cx="207.9" cy="555.2" r="3.1"/><circle cx="233.9" cy="551.9" r="3.1"/><circle cx="221.6" cy="553.6" r="3.1"/><circle cx="130.0" cy="547.0" r="3.1"/><circle cx="225.0" cy="553.2" r="3.1"/><circle cx="206.8" cy="543.9" r="3.1"/><circle cx="136.3" cy="543.8" r="3.1"/><circle cx="215.1" cy="546.3" r="3.1"/><circle cx="160.8" cy="541.4" r="3.1"/><circle cx="152.0" cy="539.9" r="3.1"/><circle cx="156.6" cy="551.0" r="3.1"/><circle cx="227.5" cy="541.4" r="3.1"/><circle cx="149.6" cy="546.1" r="3.1"/><circle cx="177.6" cy="540.4" r="3.1"/><circle cx="97.4" cy="537.8" r="3.1"/><circle cx="94.3" cy="542.8" r="3.1"/><circle cx="214.4" cy="564.1" r="3.1"/><circle cx="206.6" cy="564.1" r="3.1"/><circle cx="259.5" cy="537.0" r="3.1"/><circle cx="102.4" cy="550.8" r="3.1"/><circle cx="126.2" cy="556.8" r="3.1"/><circle cx="178.0" cy="552.0" r="3.1"/><circle cx="235.3" cy="537.6" r="3.1"/><circle cx="144.5" cy="551.6" r="3.1"/><circle cx="183.2" cy="539.4" r="3.1"/><circle cx="178.1" cy="555.5" r="3.1"/><circle cx="173.8" cy="547.2" r="3.1"/><circle cx="135.2" cy="542.7" r="3.1"/><circle cx="223.5" cy="550.9" r="3.1"/><circle cx="247.8" cy="536.8" r="3.1"/><circle cx="193.4" cy="537.4" r="3.1"/><circle cx="179.0" cy="549.4" r="3.1"/><circle cx="199.8" cy="556.2" r="3.1"/><circle cx="113.7" cy="563.2" r="3.1"/><circle cx="250.8" cy="544.1" r="3.1"/><circle cx="202.0" cy="564.1" r="3.1"/><circle cx="129.7" cy="548.9" r="3.1"/><circle cx="193.7" cy="547.9" r="3.1"/><circle cx="209.8" cy="543.4" r="3.1"/><circle cx="259.1" cy="548.5" r="3.1"/><circle cx="129.2" cy="544.0" r="3.1"/><circle cx="234.8" cy="548.0" r="3.1"/><circle cx="91.9" cy="550.2" r="3.1"/><circle cx="196.6" cy="554.9" r="3.1"/><circle cx="158.4" cy="544.2" r="3.1"/><circle cx="130.5" cy="549.6" r="3.1"/><circle cx="220.8" cy="550.7" r="3.1"/><circle cx="140.6" cy="546.6" r="3.1"/><circle cx="230.8" cy="550.0" r="3.1"/><circle cx="103.1" cy="540.2" r="3.1"/><circle cx="174.4" cy="550.4" r="3.1"/><circle cx="169.0" cy="559.4" r="3.1"/><circle cx="236.2" cy="536.4" r="3.1"/><circle cx="180.7" cy="558.3" r="3.1"/><circle cx="213.8" cy="557.2" r="3.1"/><circle cx="171.1" cy="536.4" r="3.1"/><circle cx="203.1" cy="554.6" r="3.1"/><circle cx="224.9" cy="535.4" r="3.1"/><circle cx="210.8" cy="560.9" r="3.1"/><circle cx="139.0" cy="560.2" r="3.1"/><circle cx="116.1" cy="537.4" r="3.1"/><circle cx="221.5" cy="549.5" r="3.1"/><circle cx="219.2" cy="541.0" r="3.1"/><circle cx="192.9" cy="545.2" r="3.1"/><circle cx="231.4" cy="562.9" r="3.1"/><circle cx="139.9" cy="537.7" r="3.1"/><circle cx="213.0" cy="538.5" r="3.1"/><circle cx="248.3" cy="541.3" r="3.1"/><circle cx="229.0" cy="546.4" r="3.1"/><circle cx="220.1" cy="556.0" r="3.1"/><circle cx="254.0" cy="557.6" r="3.1"/><circle cx="230.1" cy="559.4" r="3.1"/><circle cx="160.0" cy="551.5" r="3.1"/><circle cx="242.9" cy="542.4" r="3.1"/><circle cx="221.8" cy="534.7" r="3.1"/><circle cx="150.4" cy="546.9" r="3.1"/><circle cx="229.7" cy="546.2" r="3.1"/><circle cx="225.3" cy="545.9" r="3.1"/><circle cx="159.9" cy="559.7" r="3.1"/><circle cx="204.8" cy="544.0" r="3.1"/><circle cx="224.3" cy="543.3" r="3.1"/><circle cx="228.6" cy="548.5" r="3.1"/><circle cx="249.7" cy="539.1" r="3.1"/><circle cx="121.8" cy="563.0" r="3.1"/><circle cx="234.5" cy="553.5" r="3.1"/><circle cx="246.7" cy="543.9" r="3.1"/><circle cx="192.0" cy="548.6" r="3.1"/><circle cx="229.4" cy="547.5" r="3.1"/><circle cx="239.8" cy="541.1" r="3.1"/><circle cx="239.8" cy="546.5" r="3.1"/><circle cx="181.9" cy="552.9" r="3.1"/><circle cx="213.3" cy="556.6" r="3.1"/><circle cx="216.1" cy="547.9" r="3.1"/><circle cx="195.1" cy="543.5" r="3.1"/><circle cx="206.4" cy="556.8" r="3.1"/><circle cx="227.8" cy="554.4" r="3.1"/><circle cx="237.3" cy="541.5" r="3.1"/><circle cx="252.9" cy="555.7" r="3.1"/><circle cx="249.5" cy="555.3" r="3.1"/><circle cx="156.4" cy="558.3" r="3.1"/><circle cx="193.0" cy="555.5" r="3.1"/><circle cx="199.2" cy="556.8" r="3.1"/><circle cx="173.1" cy="545.1" r="3.1"/><circle cx="120.4" cy="549.9" r="3.1"/><circle cx="214.5" cy="552.3" r="3.1"/><circle cx="224.4" cy="555.8" r="3.1"/><circle cx="192.4" cy="540.3" r="3.1"/><circle cx="212.4" cy="552.9" r="3.1"/><circle cx="224.1" cy="559.8" r="3.1"/><circle cx="236.2" cy="548.7" r="3.1"/><circle cx="198.6" cy="552.6" r="3.1"/><circle cx="181.3" cy="537.9" r="3.1"/><circle cx="220.9" cy="560.9" r="3.1"/><circle cx="199.3" cy="549.4" r="3.1"/><circle cx="241.1" cy="541.3" r="3.1"/><circle cx="226.9" cy="536.8" r="3.1"/><circle cx="205.3" cy="556.8" r="3.1"/><circle cx="227.5" cy="558.9" r="3.1"/><circle cx="116.8" cy="546.2" r="3.1"/><circle cx="255.2" cy="554.0" r="3.1"/><circle cx="204.5" cy="538.2" r="3.1"/><circle cx="135.5" cy="547.5" r="3.1"/><circle cx="177.8" cy="564.6" r="3.1"/><circle cx="191.6" cy="555.0" r="3.1"/><circle cx="180.3" cy="539.6" r="3.1"/><circle cx="224.6" cy="564.9" r="3.1"/><circle cx="153.7" cy="547.5" r="3.1"/><circle cx="209.1" cy="552.7" r="3.1"/><circle cx="170.0" cy="558.4" r="3.1"/><circle cx="201.4" cy="550.9" r="3.1"/><circle cx="138.6" cy="554.2" r="3.1"/><circle cx="127.7" cy="544.4" r="3.1"/><circle cx="170.7" cy="559.4" r="3.1"/><circle cx="205.3" cy="557.1" r="3.1"/><circle cx="178.8" cy="533.7" r="3.1"/><circle cx="250.3" cy="542.0" r="3.1"/><circle cx="208.2" cy="559.1" r="3.1"/><circle cx="208.6" cy="557.2" r="3.1"/><circle cx="141.1" cy="547.5" r="3.1"/><circle cx="243.6" cy="550.2" r="3.1"/><circle cx="227.0" cy="562.3" r="3.1"/><circle cx="169.2" cy="557.6" r="3.1"/><circle cx="256.3" cy="541.7" r="3.1"/><circle cx="183.5" cy="565.6" r="3.1"/><circle cx="220.4" cy="564.5" r="3.1"/><circle cx="174.0" cy="555.2" r="3.1"/><circle cx="190.7" cy="549.9" r="3.1"/><circle cx="193.4" cy="557.9" r="3.1"/><circle cx="242.5" cy="562.5" r="3.1"/><circle cx="98.9" cy="556.7" r="3.1"/><circle cx="192.9" cy="551.4" r="3.1"/><circle cx="207.1" cy="544.4" r="3.1"/><circle cx="203.1" cy="561.3" r="3.1"/><circle cx="257.4" cy="552.9" r="3.1"/><circle cx="220.8" cy="544.9" r="3.1"/><circle cx="212.2" cy="562.8" r="3.1"/><circle cx="247.1" cy="543.7" r="3.1"/><circle cx="247.0" cy="535.5" r="3.1"/><circle cx="124.0" cy="565.4" r="3.1"/><circle cx="206.4" cy="539.2" r="3.1"/><circle cx="239.5" cy="565.9" r="3.1"/><circle cx="178.0" cy="549.3" r="3.1"/><circle cx="189.8" cy="539.4" r="3.1"/><circle cx="89.9" cy="546.1" r="3.1"/><circle cx="176.1" cy="552.8" r="3.1"/><circle cx="225.1" cy="561.9" r="3.1"/><circle cx="113.8" cy="562.7" r="3.1"/><circle cx="176.2" cy="562.8" r="3.1"/><circle cx="185.9" cy="550.8" r="3.1"/><circle cx="210.6" cy="535.7" r="3.1"/><circle cx="229.9" cy="564.9" r="3.1"/><circle cx="232.2" cy="536.8" r="3.1"/><circle cx="108.4" cy="524.9" r="3.1"/><circle cx="118.1" cy="531.4" r="3.1"/><circle cx="109.7" cy="532.4" r="3.1"/><circle cx="111.1" cy="526.3" r="3.1"/><circle cx="117.1" cy="525.1" r="3.1"/><circle cx="144.1" cy="533.5" r="3.1"/><circle cx="145.5" cy="510.7" r="3.1"/><circle cx="140.1" cy="533.9" r="3.1"/><circle cx="132.6" cy="525.7" r="3.1"/><circle cx="124.0" cy="532.1" r="3.1"/><circle cx="143.9" cy="508.5" r="3.1"/><circle cx="130.8" cy="532.5" r="3.1"/><circle cx="143.2" cy="513.1" r="3.1"/><circle cx="141.1" cy="529.4" r="3.1"/><circle cx="141.8" cy="534.2" r="3.1"/><circle cx="130.4" cy="526.7" r="3.1"/><circle cx="135.4" cy="526.5" r="3.1"/><circle cx="167.0" cy="511.7" r="3.1"/><circle cx="160.6" cy="497.4" r="3.1"/><circle cx="158.4" cy="501.0" r="3.1"/><circle cx="166.0" cy="521.2" r="3.1"/><circle cx="161.4" cy="520.0" r="3.1"/><circle cx="151.8" cy="532.2" r="3.1"/><circle cx="153.3" cy="530.4" r="3.1"/><circle cx="152.7" cy="532.1" r="3.1"/><circle cx="162.0" cy="512.8" r="3.1"/><circle cx="156.3" cy="533.9" r="3.1"/><circle cx="161.4" cy="513.4" r="3.1"/><circle cx="162.7" cy="479.3" r="3.1"/><circle cx="152.5" cy="535.0" r="3.1"/><circle cx="161.5" cy="526.8" r="3.1"/><circle cx="151.7" cy="529.8" r="3.1"/><circle cx="159.4" cy="508.1" r="3.1"/><circle cx="161.5" cy="494.6" r="3.1"/><circle cx="153.6" cy="522.9" r="3.1"/><circle cx="147.8" cy="530.1" r="3.1"/><circle cx="154.8" cy="524.2" r="3.1"/><circle cx="157.5" cy="521.5" r="3.1"/><circle cx="167.1" cy="524.3" r="3.1"/><circle cx="163.1" cy="508.5" r="3.1"/><circle cx="151.1" cy="510.4" r="3.1"/><circle cx="155.7" cy="517.2" r="3.1"/><circle cx="161.4" cy="480.1" r="3.1"/><circle cx="149.4" cy="515.5" r="3.1"/><circle cx="166.4" cy="497.7" r="3.1"/><circle cx="148.1" cy="477.9" r="3.1"/><circle cx="164.3" cy="524.8" r="3.1"/><circle cx="163.7" cy="464.7" r="3.1"/><circle cx="161.1" cy="534.5" r="3.1"/><circle cx="151.3" cy="530.4" r="3.1"/><circle cx="165.8" cy="506.2" r="3.1"/><circle cx="159.4" cy="490.7" r="3.1"/><circle cx="160.9" cy="526.8" r="3.1"/><circle cx="149.4" cy="517.0" r="3.1"/><circle cx="167.4" cy="496.2" r="3.1"/><circle cx="159.0" cy="499.9" r="3.1"/><circle cx="152.0" cy="529.6" r="3.1"/><circle cx="189.7" cy="533.3" r="3.1"/><circle cx="171.1" cy="506.5" r="3.1"/><circle cx="186.4" cy="528.6" r="3.1"/><circle cx="171.3" cy="529.8" r="3.1"/><circle cx="177.2" cy="512.3" r="3.1"/><circle cx="181.2" cy="517.4" r="3.1"/><circle cx="188.3" cy="520.2" r="3.1"/><circle cx="175.1" cy="496.5" r="3.1"/><circle cx="173.5" cy="499.3" r="3.1"/><circle cx="172.7" cy="529.5" r="3.1"/><circle cx="177.1" cy="505.3" r="3.1"/><circle cx="184.3" cy="473.4" r="3.1"/><circle cx="169.0" cy="524.3" r="3.1"/><circle cx="184.8" cy="523.6" r="3.1"/><circle cx="168.5" cy="515.9" r="3.1"/><circle cx="179.0" cy="509.5" r="3.1"/><circle cx="186.1" cy="512.4" r="3.1"/><circle cx="170.1" cy="509.1" r="3.1"/><circle cx="172.2" cy="511.4" r="3.1"/><circle cx="173.7" cy="520.8" r="3.1"/><circle cx="169.5" cy="529.7" r="3.1"/><circle cx="182.0" cy="521.3" r="3.1"/><circle cx="169.6" cy="526.5" r="3.1"/><circle cx="182.2" cy="484.7" r="3.1"/><circle cx="190.2" cy="475.5" r="3.1"/><circle cx="170.6" cy="521.0" r="3.1"/><circle cx="217.9" cy="511.6" r="3.1"/><circle cx="197.9" cy="531.7" r="3.1"/><circle cx="215.8" cy="532.2" r="3.1"/><circle cx="200.4" cy="522.2" r="3.1"/><circle cx="217.4" cy="484.3" r="3.1"/><circle cx="195.4" cy="522.6" r="3.1"/><circle cx="205.2" cy="526.3" r="3.1"/><circle cx="210.6" cy="515.3" r="3.1"/><circle cx="202.8" cy="467.1" r="3.1"/><circle cx="205.9" cy="471.5" r="3.1"/><circle cx="198.2" cy="488.2" r="3.1"/><circle cx="206.8" cy="532.2" r="3.1"/><circle cx="194.2" cy="482.9" r="3.1"/><circle cx="207.4" cy="525.5" r="3.1"/><circle cx="199.6" cy="491.1" r="3.1"/><circle cx="210.3" cy="535.1" r="3.1"/><circle cx="197.3" cy="509.5" r="3.1"/><circle cx="215.6" cy="488.1" r="3.1"/><circle cx="198.2" cy="483.6" r="3.1"/><circle cx="199.4" cy="478.3" r="3.1"/><circle cx="195.6" cy="495.0" r="3.1"/><circle cx="199.1" cy="501.3" r="3.1"/><circle cx="197.1" cy="527.6" r="3.1"/><circle cx="198.5" cy="535.1" r="3.1"/><circle cx="217.8" cy="492.4" r="3.1"/><circle cx="203.9" cy="533.2" r="3.1"/><circle cx="218.0" cy="530.7" r="3.1"/><circle cx="199.5" cy="496.9" r="3.1"/><circle cx="218.0" cy="529.8" r="3.1"/><circle cx="206.2" cy="490.2" r="3.1"/><circle cx="199.1" cy="533.1" r="3.1"/><circle cx="215.0" cy="497.2" r="3.1"/><circle cx="199.4" cy="507.6" r="3.1"/><circle cx="204.0" cy="528.5" r="3.1"/><circle cx="202.4" cy="532.0" r="3.1"/><circle cx="203.2" cy="529.3" r="3.1"/><circle cx="197.7" cy="535.1" r="3.1"/><circle cx="209.2" cy="534.9" r="3.1"/><circle cx="200.2" cy="495.4" r="3.1"/><circle cx="211.9" cy="523.5" r="3.1"/><circle cx="197.1" cy="534.4" r="3.1"/><circle cx="218.3" cy="519.0" r="3.1"/><circle cx="197.4" cy="509.7" r="3.1"/><circle cx="208.5" cy="505.4" r="3.1"/><circle cx="216.4" cy="513.2" r="3.1"/><circle cx="197.8" cy="527.1" r="3.1"/><circle cx="208.6" cy="503.5" r="3.1"/><circle cx="216.4" cy="525.6" r="3.1"/><circle cx="210.6" cy="483.4" r="3.1"/><circle cx="200.5" cy="472.7" r="3.1"/><circle cx="217.8" cy="526.5" r="3.1"/><circle cx="217.1" cy="529.6" r="3.1"/><circle cx="196.2" cy="508.7" r="3.1"/><circle cx="201.0" cy="532.4" r="3.1"/><circle cx="218.5" cy="512.1" r="3.1"/><circle cx="207.2" cy="510.7" r="3.1"/><circle cx="215.4" cy="518.8" r="3.1"/><circle cx="206.7" cy="491.1" r="3.1"/><circle cx="196.5" cy="533.5" r="3.1"/><circle cx="208.6" cy="487.8" r="3.1"/><circle cx="214.2" cy="468.4" r="3.1"/><circle cx="198.5" cy="486.0" r="3.1"/><circle cx="195.5" cy="501.6" r="3.1"/><circle cx="198.2" cy="510.0" r="3.1"/><circle cx="211.4" cy="534.6" r="3.1"/><circle cx="203.0" cy="511.5" r="3.1"/><circle cx="207.0" cy="529.8" r="3.1"/><circle cx="212.6" cy="524.0" r="3.1"/><circle cx="209.6" cy="487.6" r="3.1"/><circle cx="214.1" cy="526.8" r="3.1"/><circle cx="193.8" cy="487.1" r="3.1"/><circle cx="211.8" cy="527.9" r="3.1"/><circle cx="210.2" cy="500.6" r="3.1"/><circle cx="198.9" cy="500.9" r="3.1"/><circle cx="204.1" cy="467.7" r="3.1"/><circle cx="199.5" cy="518.7" r="3.1"/><circle cx="212.5" cy="504.9" r="3.1"/><circle cx="213.3" cy="498.4" r="3.1"/><circle cx="196.8" cy="531.5" r="3.1"/><circle cx="200.4" cy="513.1" r="3.1"/><circle cx="194.4" cy="513.6" r="3.1"/><circle cx="204.4" cy="510.4" r="3.1"/><circle cx="195.5" cy="467.9" r="3.1"/><circle cx="208.4" cy="497.0" r="3.1"/><circle cx="202.7" cy="525.6" r="3.1"/><circle cx="198.0" cy="502.0" r="3.1"/><circle cx="205.9" cy="486.9" r="3.1"/><circle cx="197.7" cy="530.0" r="3.1"/><circle cx="203.1" cy="481.5" r="3.1"/><circle cx="215.1" cy="522.4" r="3.1"/><circle cx="210.1" cy="501.7" r="3.1"/><circle cx="218.4" cy="497.4" r="3.1"/><circle cx="198.6" cy="532.6" r="3.1"/><circle cx="200.1" cy="508.0" r="3.1"/><circle cx="214.7" cy="484.5" r="3.1"/><circle cx="216.1" cy="497.9" r="3.1"/><circle cx="208.7" cy="533.6" r="3.1"/><circle cx="207.3" cy="530.0" r="3.1"/><circle cx="212.2" cy="533.7" r="3.1"/><circle cx="193.6" cy="523.1" r="3.1"/><circle cx="198.0" cy="534.4" r="3.1"/><circle cx="199.5" cy="532.7" r="3.1"/><circle cx="200.4" cy="512.2" r="3.1"/><circle cx="197.4" cy="501.0" r="3.1"/><circle cx="202.2" cy="507.1" r="3.1"/><circle cx="204.3" cy="531.4" r="3.1"/><circle cx="205.9" cy="534.8" r="3.1"/><circle cx="195.7" cy="524.5" r="3.1"/><circle cx="197.7" cy="497.2" r="3.1"/><circle cx="211.5" cy="510.7" r="3.1"/><circle cx="200.3" cy="521.8" r="3.1"/><circle cx="202.3" cy="484.7" r="3.1"/><circle cx="206.2" cy="507.2" r="3.1"/><circle cx="208.0" cy="466.2" r="3.1"/><circle cx="194.8" cy="507.1" r="3.1"/><circle cx="203.5" cy="494.3" r="3.1"/><circle cx="212.0" cy="527.9" r="3.1"/><circle cx="214.2" cy="477.8" r="3.1"/><circle cx="196.0" cy="517.3" r="3.1"/><circle cx="211.8" cy="524.5" r="3.1"/><circle cx="214.3" cy="529.4" r="3.1"/><circle cx="195.9" cy="512.6" r="3.1"/><circle cx="210.6" cy="519.1" r="3.1"/><circle cx="198.5" cy="528.4" r="3.1"/><circle cx="208.5" cy="499.5" r="3.1"/><circle cx="199.7" cy="506.5" r="3.1"/><circle cx="200.2" cy="499.8" r="3.1"/><circle cx="212.2" cy="516.8" r="3.1"/><circle cx="194.3" cy="531.7" r="3.1"/><circle cx="201.0" cy="512.7" r="3.1"/><circle cx="210.0" cy="519.2" r="3.1"/><circle cx="216.8" cy="493.5" r="3.1"/><circle cx="198.8" cy="517.4" r="3.1"/><circle cx="200.2" cy="491.0" r="3.1"/><circle cx="197.6" cy="527.1" r="3.1"/><circle cx="214.9" cy="480.2" r="3.1"/><circle cx="212.0" cy="479.5" r="3.1"/><circle cx="201.5" cy="520.6" r="3.1"/><circle cx="201.7" cy="533.4" r="3.1"/><circle cx="209.2" cy="524.6" r="3.1"/><circle cx="195.8" cy="498.2" r="3.1"/><circle cx="197.4" cy="523.6" r="3.1"/><circle cx="217.6" cy="509.5" r="3.1"/><circle cx="198.6" cy="510.2" r="3.1"/><circle cx="196.6" cy="496.0" r="3.1"/><circle cx="202.9" cy="533.7" r="3.1"/><circle cx="212.0" cy="480.2" r="3.1"/><circle cx="196.3" cy="525.1" r="3.1"/><circle cx="195.3" cy="507.1" r="3.1"/><circle cx="200.0" cy="511.1" r="3.1"/><circle cx="210.8" cy="530.4" r="3.1"/><circle cx="205.8" cy="507.4" r="3.1"/><circle cx="211.9" cy="531.4" r="3.1"/><circle cx="205.0" cy="504.3" r="3.1"/><circle cx="217.4" cy="494.1" r="3.1"/><circle cx="221.1" cy="523.7" r="3.1"/><circle cx="226.9" cy="524.4" r="3.1"/><circle cx="219.9" cy="522.7" r="3.1"/><circle cx="235.6" cy="526.2" r="3.1"/><circle cx="227.0" cy="529.5" r="3.1"/><circle cx="229.6" cy="533.0" r="3.1"/><circle cx="231.8" cy="527.9" r="3.1"/><circle cx="232.1" cy="527.3" r="3.1"/><circle cx="225.8" cy="532.0" r="3.1"/><circle cx="220.9" cy="528.8" r="3.1"/><circle cx="224.1" cy="533.9" r="3.1"/><circle cx="232.0" cy="528.9" r="3.1"/><circle cx="220.5" cy="528.0" r="3.1"/><circle cx="222.0" cy="496.8" r="3.1"/><circle cx="222.1" cy="527.6" r="3.1"/><circle cx="222.2" cy="533.3" r="3.1"/><circle cx="224.9" cy="513.6" r="3.1"/><circle cx="221.4" cy="532.9" r="3.1"/><circle cx="223.6" cy="532.8" r="3.1"/><circle cx="227.2" cy="508.1" r="3.1"/><circle cx="224.1" cy="527.7" r="3.1"/><circle cx="227.0" cy="528.2" r="3.1"/><circle cx="221.5" cy="502.3" r="3.1"/><circle cx="222.5" cy="525.8" r="3.1"/><circle cx="232.8" cy="532.8" r="3.1"/><circle cx="224.9" cy="535.2" r="3.1"/><circle cx="227.1" cy="519.4" r="3.1"/><circle cx="235.7" cy="511.1" r="3.1"/><circle cx="224.6" cy="502.6" r="3.1"/><circle cx="222.2" cy="534.8" r="3.1"/><circle cx="222.4" cy="516.4" r="3.1"/><circle cx="226.3" cy="517.3" r="3.1"/><circle cx="228.8" cy="498.1" r="3.1"/><circle cx="219.5" cy="533.0" r="3.1"/><circle cx="234.2" cy="507.1" r="3.1"/><circle cx="235.1" cy="516.6" r="3.1"/><circle cx="232.9" cy="499.6" r="3.1"/><circle cx="223.7" cy="522.0" r="3.1"/><circle cx="225.2" cy="520.4" r="3.1"/><circle cx="225.6" cy="523.9" r="3.1"/><circle cx="234.4" cy="525.9" r="3.1"/><circle cx="226.1" cy="506.8" r="3.1"/><circle cx="231.8" cy="502.7" r="3.1"/><circle cx="223.4" cy="502.5" r="3.1"/><circle cx="235.7" cy="517.2" r="3.1"/><circle cx="253.3" cy="534.0" r="3.1"/><circle cx="251.6" cy="500.8" r="3.1"/><circle cx="239.1" cy="503.2" r="3.1"/><circle cx="248.8" cy="511.7" r="3.1"/><circle cx="244.2" cy="496.2" r="3.1"/><circle cx="256.1" cy="506.1" r="3.1"/><circle cx="258.4" cy="534.1" r="3.1"/><circle cx="251.5" cy="498.3" r="3.1"/><circle cx="237.0" cy="514.1" r="3.1"/><circle cx="246.8" cy="512.7" r="3.1"/><circle cx="244.0" cy="526.5" r="3.1"/><circle cx="241.0" cy="525.3" r="3.1"/><circle cx="238.3" cy="519.6" r="3.1"/><circle cx="241.3" cy="528.2" r="3.1"/><circle cx="237.6" cy="498.4" r="3.1"/><circle cx="240.7" cy="518.7" r="3.1"/><circle cx="247.0" cy="499.1" r="3.1"/><circle cx="258.7" cy="509.7" r="3.1"/><circle cx="243.3" cy="500.1" r="3.1"/><circle cx="247.2" cy="496.7" r="3.1"/><circle cx="257.4" cy="533.2" r="3.1"/><circle cx="256.8" cy="514.2" r="3.1"/><circle cx="249.6" cy="509.5" r="3.1"/><circle cx="255.8" cy="515.1" r="3.1"/><circle cx="248.3" cy="509.9" r="3.1"/><circle cx="257.0" cy="532.8" r="3.1"/><circle cx="251.8" cy="529.3" r="3.1"/><circle cx="244.6" cy="512.8" r="3.1"/><circle cx="258.9" cy="531.1" r="3.1"/><circle cx="257.8" cy="523.4" r="3.1"/><circle cx="236.7" cy="513.3" r="3.1"/><circle cx="253.1" cy="521.2" r="3.1"/><circle cx="246.2" cy="510.2" r="3.1"/><circle cx="255.5" cy="518.9" r="3.1"/><circle cx="254.8" cy="524.5" r="3.1"/><circle cx="253.7" cy="521.7" r="3.1"/><circle cx="255.1" cy="525.5" r="3.1"/><circle cx="246.3" cy="507.0" r="3.1"/><circle cx="258.2" cy="508.9" r="3.1"/><circle cx="240.7" cy="528.3" r="3.1"/><circle cx="253.4" cy="514.5" r="3.1"/><circle cx="240.4" cy="507.6" r="3.1"/><circle cx="251.9" cy="527.0" r="3.1"/><circle cx="249.3" cy="505.5" r="3.1"/><circle cx="254.9" cy="513.3" r="3.1"/><circle cx="254.1" cy="519.5" r="3.1"/><circle cx="258.0" cy="518.2" r="3.1"/><circle cx="240.9" cy="506.5" r="3.1"/><circle cx="257.4" cy="531.1" r="3.1"/><circle cx="257.5" cy="507.0" r="3.1"/><circle cx="258.2" cy="527.2" r="3.1"/><circle cx="249.3" cy="513.8" r="3.1"/><circle cx="255.1" cy="508.0" r="3.1"/><circle cx="246.0" cy="520.1" r="3.1"/><circle cx="242.5" cy="524.0" r="3.1"/><circle cx="246.0" cy="507.7" r="3.1"/><circle cx="238.1" cy="533.1" r="3.1"/><circle cx="236.0" cy="514.3" r="3.1"/><circle cx="253.8" cy="502.3" r="3.1"/><circle cx="241.6" cy="534.3" r="3.1"/><circle cx="240.1" cy="505.6" r="3.1"/><circle cx="250.3" cy="521.7" r="3.1"/><circle cx="249.9" cy="526.0" r="3.1"/><circle cx="253.2" cy="535.2" r="3.1"/><circle cx="252.9" cy="496.4" r="3.1"/><circle cx="242.4" cy="505.8" r="3.1"/><circle cx="258.5" cy="525.6" r="3.1"/><circle cx="237.6" cy="531.7" r="3.1"/><circle cx="255.0" cy="529.4" r="3.1"/><circle cx="246.9" cy="523.1" r="3.1"/><circle cx="251.2" cy="513.0" r="3.1"/><circle cx="254.3" cy="535.1" r="3.1"/><circle cx="241.8" cy="530.8" r="3.1"/><circle cx="245.7" cy="521.5" r="3.1"/><circle cx="250.7" cy="530.6" r="3.1"/><circle cx="241.1" cy="521.5" r="3.1"/><circle cx="237.9" cy="527.9" r="3.1"/><circle cx="248.0" cy="515.2" r="3.1"/><circle cx="240.3" cy="509.0" r="3.1"/><circle cx="259.2" cy="532.0" r="3.1"/><circle cx="247.5" cy="509.2" r="3.1"/><circle cx="240.6" cy="525.9" r="3.1"/><circle cx="250.1" cy="526.2" r="3.1"/><circle cx="237.7" cy="523.5" r="3.1"/><circle cx="252.7" cy="510.8" r="3.1"/><circle cx="244.4" cy="530.2" r="3.1"/><circle cx="246.1" cy="512.8" r="3.1"/><circle cx="245.3" cy="505.1" r="3.1"/><circle cx="239.5" cy="514.2" r="3.1"/><circle cx="236.1" cy="511.2" r="3.1"/><circle cx="256.2" cy="532.3" r="3.1"/><circle cx="251.0" cy="512.5" r="3.1"/><circle cx="257.9" cy="514.0" r="3.1"/><circle cx="243.0" cy="520.2" r="3.1"/><circle cx="249.2" cy="514.4" r="3.1"/><circle cx="258.6" cy="501.0" r="3.1"/><circle cx="239.4" cy="503.3" r="3.1"/><circle cx="254.8" cy="499.4" r="3.1"/><circle cx="250.0" cy="525.5" r="3.1"/><circle cx="258.5" cy="515.2" r="3.1"/><circle cx="249.9" cy="508.4" r="3.1"/><circle cx="240.3" cy="516.4" r="3.1"/><circle cx="257.6" cy="531.6" r="3.1"/><circle cx="244.9" cy="523.9" r="3.1"/><circle cx="248.3" cy="486.0" r="3.1"/><circle cx="257.5" cy="534.1" r="3.1"/><circle cx="251.9" cy="511.5" r="3.1"/><circle cx="248.3" cy="509.9" r="3.1"/><circle cx="244.7" cy="498.5" r="3.1"/><circle cx="251.6" cy="499.7" r="3.1"/><circle cx="236.2" cy="498.4" r="3.1"/><circle cx="235.2" cy="498.3" r="3.1"/><circle cx="231.8" cy="500.5" r="3.1"/><circle cx="234.0" cy="499.3" r="3.1"/><circle cx="247.9" cy="500.3" r="3.1"/><circle cx="222.0" cy="499.5" r="3.1"/><circle cx="252.3" cy="499.2" r="3.1"/><circle cx="226.8" cy="499.6" r="3.1"/><circle cx="231.4" cy="499.2" r="3.1"/><circle cx="249.5" cy="500.2" r="3.1"/></g>
<line x1="77.3" y1="543" x2="260.4" y2="531.3" stroke="#e0301e" stroke-width="3.6"/>
<path d="M75.6,622.4V777.2H259.9" fill="none" stroke="#555" stroke-width="1.1"/>
<line x1="75.6" y1="746.2" x2="78.6" y2="746.2" stroke="#555" stroke-width="1"/>
<line x1="75.6" y1="715.3" x2="78.6" y2="715.3" stroke="#555" stroke-width="1"/>
<line x1="75.6" y1="684.3" x2="78.6" y2="684.3" stroke="#555" stroke-width="1"/>
<line x1="75.6" y1="653.4" x2="78.6" y2="653.4" stroke="#555" stroke-width="1"/>
<line x1="75.6" y1="622.4" x2="78.6" y2="622.4" stroke="#555" stroke-width="1"/>
<line x1="112.4" y1="777.2" x2="112.4" y2="774.2" stroke="#555" stroke-width="1"/>
<line x1="149.3" y1="777.2" x2="149.3" y2="774.2" stroke="#555" stroke-width="1"/>
<line x1="186.2" y1="777.2" x2="186.2" y2="774.2" stroke="#555" stroke-width="1"/>
<line x1="223.0" y1="777.2" x2="223.0" y2="774.2" stroke="#555" stroke-width="1"/>
<line x1="259.9" y1="777.2" x2="259.9" y2="774.2" stroke="#555" stroke-width="1"/>
<text x="70.0" y="656.8" font-size="19" text-anchor="end" fill="#111">80</text>
<text x="70.0" y="718.8" font-size="19" text-anchor="end" fill="#111">40</text>
<text x="70.0" y="780.7" font-size="19" text-anchor="end" fill="#111">0</text>
<text x="74.5" y="797.9" font-size="19" text-anchor="middle" fill="#111">0</text>
<text x="150.0" y="797.9" font-size="19" text-anchor="middle" fill="#111">20</text>
<text x="225.0" y="797.9" font-size="19" text-anchor="middle" fill="#111">40</text>
<text x="91.5" y="632.2" font-size="22.5" text-anchor="start" fill="#111" font-style="italic">RL</text>
<text x="71.3" y="825.5" font-size="20" text-anchor="start" fill="#111" textLength="206.0" lengthAdjust="spacingAndGlyphs">r-Eccentricity (degrees)</text>
<g fill="#111"><circle cx="187.7" cy="632.5" r="3.1"/><circle cx="183.9" cy="635.4" r="3.1"/><circle cx="167.8" cy="645.1" r="3.1"/><circle cx="176.6" cy="644.8" r="3.1"/><circle cx="256.0" cy="645.7" r="3.1"/><circle cx="246.6" cy="650.0" r="3.1"/><circle cx="254.5" cy="649.5" r="3.1"/><circle cx="205.8" cy="651.5" r="3.1"/><circle cx="129.9" cy="655.3" r="3.1"/><circle cx="179.5" cy="657.9" r="3.1"/><circle cx="115.3" cy="659.7" r="3.1"/><circle cx="189.7" cy="660.3" r="3.1"/><circle cx="245.2" cy="663.2" r="3.1"/><circle cx="240.8" cy="662.3" r="3.1"/><circle cx="110.9" cy="668.1" r="3.1"/><circle cx="140.9" cy="668.1" r="3.1"/><circle cx="173.6" cy="669.6" r="3.1"/><circle cx="240.8" cy="667.6" r="3.1"/><circle cx="138.6" cy="671.9" r="3.1"/><circle cx="123.1" cy="673.4" r="3.1"/><circle cx="129.9" cy="675.7" r="3.1"/><circle cx="223.3" cy="672.8" r="3.1"/><circle cx="243.7" cy="670.5" r="3.1"/><circle cx="91.0" cy="682.2" r="3.1"/><circle cx="91.9" cy="685.1" r="3.1"/><circle cx="115.8" cy="682.2" r="3.1"/><circle cx="143.9" cy="683.0" r="3.1"/><circle cx="166.4" cy="680.7" r="3.1"/><circle cx="171.3" cy="680.7" r="3.1"/><circle cx="186.8" cy="681.6" r="3.1"/><circle cx="201.4" cy="684.5" r="3.1"/><circle cx="206.4" cy="683.0" r="3.1"/><circle cx="226.2" cy="679.8" r="3.1"/><circle cx="224.7" cy="685.1" r="3.1"/><circle cx="239.3" cy="677.8" r="3.1"/><circle cx="248.1" cy="676.9" r="3.1"/><circle cx="245.2" cy="683.6" r="3.1"/><circle cx="252.5" cy="684.5" r="3.1"/><circle cx="259.5" cy="688.6" r="3.1"/><circle cx="125.5" cy="688.0" r="3.1"/><circle cx="188.2" cy="689.5" r="3.1"/><circle cx="169.3" cy="689.5" r="3.1"/><circle cx="170.7" cy="692.4" r="3.1"/><circle cx="96.3" cy="699.7" r="3.1"/><circle cx="89.9" cy="707.8" r="3.1"/><circle cx="89.9" cy="729.7" r="3.1"/><circle cx="96.3" cy="721.6" r="3.1"/><circle cx="97.7" cy="725.9" r="3.1"/><circle cx="103.6" cy="731.8" r="3.1"/><circle cx="113.8" cy="733.8" r="3.1"/><circle cx="108.0" cy="723.0" r="3.1"/><circle cx="112.3" cy="724.5" r="3.1"/><circle cx="126.9" cy="737.6" r="3.1"/><circle cx="126.9" cy="741.1" r="3.1"/><circle cx="128.4" cy="756.6" r="3.1"/><circle cx="141.5" cy="754.6" r="3.1"/><circle cx="164.9" cy="755.1" r="3.1"/><circle cx="163.4" cy="747.8" r="3.1"/><circle cx="169.3" cy="749.3" r="3.1"/><circle cx="166.4" cy="742.0" r="3.1"/><circle cx="182.4" cy="743.5" r="3.1"/><circle cx="185.3" cy="750.8" r="3.1"/><circle cx="186.8" cy="740.5" r="3.1"/><circle cx="192.6" cy="736.2" r="3.1"/><circle cx="191.2" cy="743.5" r="3.1"/><circle cx="197.6" cy="748.4" r="3.1"/><circle cx="150.3" cy="737.6" r="3.1"/><circle cx="216.0" cy="737.6" r="3.1"/><circle cx="229.1" cy="747.8" r="3.1"/><circle cx="230.6" cy="740.5" r="3.1"/><circle cx="207.2" cy="733.2" r="3.1"/><circle cx="242.3" cy="739.1" r="3.1"/><circle cx="256.9" cy="737.6" r="3.1"/><circle cx="246.6" cy="696.7" r="3.1"/><circle cx="235.9" cy="717.3" r="3.1"/><circle cx="218.1" cy="708.1" r="3.1"/><circle cx="197.1" cy="711.9" r="3.1"/><circle cx="117.8" cy="725.4" r="3.1"/><circle cx="254.7" cy="724.6" r="3.1"/><circle cx="256.3" cy="719.3" r="3.1"/><circle cx="259.0" cy="703.5" r="3.1"/><circle cx="120.0" cy="704.9" r="3.1"/><circle cx="215.3" cy="702.2" r="3.1"/><circle cx="180.2" cy="698.7" r="3.1"/><circle cx="224.4" cy="708.7" r="3.1"/><circle cx="192.2" cy="734.4" r="3.1"/><circle cx="185.4" cy="693.8" r="3.1"/><circle cx="207.4" cy="704.6" r="3.1"/><circle cx="177.6" cy="731.5" r="3.1"/><circle cx="225.6" cy="719.0" r="3.1"/><circle cx="213.8" cy="725.1" r="3.1"/><circle cx="253.1" cy="692.3" r="3.1"/><circle cx="144.0" cy="718.6" r="3.1"/><circle cx="207.0" cy="711.0" r="3.1"/><circle cx="193.9" cy="720.8" r="3.1"/><circle cx="235.7" cy="715.7" r="3.1"/><circle cx="219.3" cy="698.0" r="3.1"/><circle cx="200.3" cy="720.2" r="3.1"/><circle cx="259.5" cy="727.6" r="3.1"/><circle cx="218.9" cy="703.4" r="3.1"/><circle cx="251.4" cy="721.9" r="3.1"/><circle cx="154.2" cy="710.2" r="3.1"/><circle cx="171.4" cy="714.3" r="3.1"/><circle cx="169.8" cy="712.9" r="3.1"/><circle cx="248.5" cy="724.0" r="3.1"/><circle cx="175.1" cy="697.1" r="3.1"/><circle cx="221.1" cy="687.6" r="3.1"/><circle cx="165.5" cy="692.7" r="3.1"/><circle cx="129.7" cy="722.7" r="3.1"/><circle cx="246.8" cy="718.2" r="3.1"/><circle cx="159.0" cy="725.5" r="3.1"/><circle cx="173.9" cy="721.7" r="3.1"/><circle cx="219.5" cy="700.1" r="3.1"/><circle cx="155.6" cy="727.0" r="3.1"/><circle cx="143.5" cy="709.7" r="3.1"/><circle cx="138.5" cy="705.4" r="3.1"/><circle cx="206.5" cy="695.1" r="3.1"/><circle cx="203.9" cy="716.8" r="3.1"/><circle cx="192.9" cy="702.5" r="3.1"/><circle cx="255.3" cy="712.7" r="3.1"/><circle cx="125.2" cy="694.5" r="3.1"/><circle cx="203.8" cy="695.9" r="3.1"/><circle cx="247.4" cy="720.8" r="3.1"/><circle cx="90.6" cy="728.6" r="3.1"/><circle cx="143.4" cy="698.9" r="3.1"/><circle cx="243.3" cy="709.8" r="3.1"/><circle cx="230.1" cy="709.2" r="3.1"/><circle cx="231.4" cy="704.2" r="3.1"/><circle cx="248.3" cy="697.7" r="3.1"/><circle cx="159.0" cy="721.3" r="3.1"/><circle cx="256.7" cy="710.9" r="3.1"/><circle cx="258.8" cy="722.3" r="3.1"/><circle cx="196.0" cy="701.1" r="3.1"/><circle cx="183.8" cy="694.9" r="3.1"/><circle cx="242.9" cy="705.2" r="3.1"/><circle cx="226.1" cy="705.9" r="3.1"/><circle cx="175.6" cy="723.0" r="3.1"/><circle cx="182.5" cy="716.0" r="3.1"/><circle cx="131.3" cy="723.2" r="3.1"/><circle cx="231.8" cy="709.7" r="3.1"/><circle cx="192.7" cy="706.9" r="3.1"/><circle cx="146.6" cy="709.3" r="3.1"/><circle cx="200.3" cy="716.6" r="3.1"/><circle cx="249.1" cy="694.2" r="3.1"/><circle cx="116.6" cy="723.3" r="3.1"/><circle cx="210.0" cy="687.8" r="3.1"/><circle cx="118.5" cy="694.6" r="3.1"/><circle cx="200.2" cy="695.1" r="3.1"/><circle cx="196.3" cy="722.3" r="3.1"/><circle cx="211.8" cy="711.9" r="3.1"/><circle cx="163.8" cy="689.5" r="3.1"/><circle cx="157.9" cy="697.2" r="3.1"/><circle cx="258.8" cy="712.9" r="3.1"/><circle cx="128.1" cy="693.5" r="3.1"/><circle cx="207.0" cy="708.8" r="3.1"/><circle cx="246.3" cy="706.0" r="3.1"/><circle cx="175.5" cy="705.2" r="3.1"/><circle cx="228.4" cy="694.5" r="3.1"/><circle cx="208.6" cy="707.8" r="3.1"/><circle cx="212.9" cy="712.0" r="3.1"/><circle cx="208.2" cy="713.7" r="3.1"/><circle cx="256.1" cy="722.1" r="3.1"/><circle cx="91.0" cy="715.0" r="3.1"/><circle cx="238.2" cy="699.9" r="3.1"/><circle cx="204.2" cy="703.6" r="3.1"/><circle cx="238.6" cy="724.0" r="3.1"/><circle cx="186.3" cy="687.4" r="3.1"/><circle cx="178.3" cy="717.5" r="3.1"/><circle cx="176.9" cy="701.4" r="3.1"/><circle cx="128.1" cy="725.7" r="3.1"/><circle cx="161.3" cy="711.7" r="3.1"/><circle cx="178.0" cy="698.5" r="3.1"/><circle cx="153.9" cy="717.9" r="3.1"/><circle cx="158.5" cy="705.6" r="3.1"/><circle cx="214.3" cy="724.0" r="3.1"/><circle cx="167.0" cy="715.4" r="3.1"/><circle cx="125.5" cy="700.7" r="3.1"/><circle cx="223.3" cy="719.1" r="3.1"/><circle cx="207.9" cy="726.7" r="3.1"/><circle cx="179.3" cy="690.1" r="3.1"/><circle cx="129.2" cy="716.0" r="3.1"/><circle cx="215.3" cy="717.9" r="3.1"/><circle cx="172.9" cy="704.4" r="3.1"/><circle cx="242.1" cy="700.0" r="3.1"/><circle cx="161.7" cy="721.0" r="3.1"/><circle cx="255.5" cy="704.1" r="3.1"/><circle cx="246.6" cy="700.6" r="3.1"/><circle cx="241.3" cy="701.7" r="3.1"/><circle cx="153.8" cy="692.0" r="3.1"/><circle cx="243.4" cy="726.5" r="3.1"/><circle cx="133.6" cy="701.7" r="3.1"/><circle cx="156.5" cy="699.8" r="3.1"/><circle cx="219.4" cy="710.6" r="3.1"/><circle cx="205.5" cy="710.5" r="3.1"/><circle cx="204.6" cy="709.1" r="3.1"/><circle cx="140.1" cy="695.2" r="3.1"/><circle cx="187.7" cy="732.3" r="3.1"/><circle cx="199.6" cy="717.6" r="3.1"/><circle cx="126.4" cy="711.8" r="3.1"/><circle cx="160.9" cy="706.5" r="3.1"/><circle cx="257.5" cy="714.8" r="3.1"/><circle cx="235.5" cy="721.4" r="3.1"/><circle cx="227.7" cy="717.5" r="3.1"/><circle cx="221.9" cy="707.4" r="3.1"/><circle cx="154.8" cy="711.7" r="3.1"/><circle cx="233.1" cy="727.9" r="3.1"/><circle cx="217.9" cy="697.3" r="3.1"/><circle cx="258.7" cy="720.5" r="3.1"/><circle cx="90.7" cy="709.4" r="3.1"/><circle cx="163.7" cy="716.0" r="3.1"/><circle cx="174.0" cy="693.2" r="3.1"/><circle cx="236.3" cy="703.2" r="3.1"/><circle cx="147.2" cy="719.3" r="3.1"/><circle cx="153.0" cy="696.2" r="3.1"/><circle cx="201.6" cy="716.5" r="3.1"/><circle cx="233.6" cy="701.9" r="3.1"/><circle cx="151.5" cy="702.1" r="3.1"/><circle cx="203.0" cy="696.3" r="3.1"/><circle cx="159.1" cy="708.1" r="3.1"/><circle cx="231.4" cy="724.3" r="3.1"/><circle cx="214.7" cy="705.6" r="3.1"/><circle cx="174.6" cy="709.0" r="3.1"/><circle cx="199.7" cy="704.4" r="3.1"/><circle cx="143.6" cy="702.2" r="3.1"/><circle cx="194.9" cy="701.1" r="3.1"/><circle cx="142.7" cy="727.4" r="3.1"/><circle cx="222.5" cy="716.2" r="3.1"/><circle cx="128.0" cy="703.9" r="3.1"/><circle cx="218.0" cy="725.1" r="3.1"/><circle cx="229.7" cy="698.4" r="3.1"/><circle cx="255.1" cy="698.1" r="3.1"/><circle cx="178.6" cy="701.4" r="3.1"/><circle cx="231.1" cy="719.7" r="3.1"/><circle cx="147.8" cy="713.7" r="3.1"/><circle cx="139.9" cy="707.6" r="3.1"/><circle cx="246.3" cy="680.1" r="3.1"/><circle cx="247.1" cy="732.9" r="3.1"/><circle cx="167.6" cy="727.0" r="3.1"/><circle cx="252.5" cy="711.5" r="3.1"/><circle cx="157.5" cy="734.2" r="3.1"/><circle cx="152.8" cy="714.2" r="3.1"/><circle cx="238.8" cy="710.7" r="3.1"/><circle cx="125.9" cy="713.4" r="3.1"/><circle cx="159.2" cy="729.0" r="3.1"/><circle cx="170.3" cy="709.6" r="3.1"/><circle cx="212.8" cy="719.2" r="3.1"/><circle cx="228.1" cy="714.2" r="3.1"/><circle cx="172.1" cy="694.5" r="3.1"/><circle cx="188.4" cy="712.1" r="3.1"/><circle cx="225.7" cy="711.1" r="3.1"/><circle cx="231.2" cy="725.0" r="3.1"/><circle cx="223.6" cy="721.5" r="3.1"/><circle cx="228.5" cy="725.2" r="3.1"/><circle cx="160.2" cy="706.4" r="3.1"/><circle cx="237.2" cy="704.5" r="3.1"/><circle cx="115.6" cy="718.3" r="3.1"/><circle cx="170.9" cy="715.1" r="3.1"/><circle cx="164.9" cy="710.3" r="3.1"/><circle cx="248.0" cy="712.9" r="3.1"/><circle cx="187.0" cy="707.2" r="3.1"/><circle cx="200.2" cy="690.8" r="3.1"/><circle cx="171.7" cy="722.9" r="3.1"/><circle cx="214.6" cy="725.9" r="3.1"/><circle cx="132.8" cy="722.7" r="3.1"/><circle cx="125.8" cy="708.6" r="3.1"/><circle cx="218.6" cy="700.5" r="3.1"/><circle cx="143.3" cy="716.5" r="3.1"/><circle cx="251.0" cy="725.3" r="3.1"/><circle cx="171.0" cy="706.7" r="3.1"/><circle cx="159.5" cy="723.9" r="3.1"/><circle cx="187.8" cy="716.3" r="3.1"/><circle cx="239.6" cy="690.1" r="3.1"/><circle cx="170.0" cy="710.0" r="3.1"/><circle cx="141.2" cy="712.5" r="3.1"/><circle cx="199.3" cy="719.5" r="3.1"/><circle cx="201.8" cy="721.4" r="3.1"/><circle cx="191.6" cy="707.6" r="3.1"/><circle cx="142.2" cy="709.3" r="3.1"/><circle cx="214.3" cy="717.0" r="3.1"/><circle cx="249.0" cy="712.9" r="3.1"/><circle cx="175.3" cy="722.8" r="3.1"/><circle cx="155.3" cy="707.0" r="3.1"/><circle cx="231.5" cy="711.1" r="3.1"/><circle cx="108.9" cy="721.2" r="3.1"/><circle cx="124.8" cy="710.6" r="3.1"/><circle cx="242.5" cy="722.4" r="3.1"/><circle cx="185.4" cy="698.6" r="3.1"/><circle cx="245.5" cy="707.3" r="3.1"/><circle cx="211.7" cy="700.8" r="3.1"/><circle cx="154.0" cy="713.5" r="3.1"/><circle cx="116.0" cy="711.1" r="3.1"/><circle cx="104.2" cy="706.4" r="3.1"/><circle cx="161.0" cy="697.7" r="3.1"/><circle cx="159.5" cy="707.8" r="3.1"/><circle cx="137.4" cy="715.6" r="3.1"/><circle cx="138.1" cy="714.3" r="3.1"/><circle cx="199.2" cy="702.2" r="3.1"/><circle cx="226.1" cy="710.6" r="3.1"/><circle cx="176.6" cy="705.5" r="3.1"/><circle cx="212.3" cy="733.1" r="3.1"/><circle cx="241.6" cy="694.4" r="3.1"/><circle cx="250.2" cy="702.7" r="3.1"/><circle cx="184.9" cy="726.7" r="3.1"/><circle cx="236.7" cy="712.4" r="3.1"/><circle cx="211.3" cy="694.7" r="3.1"/><circle cx="202.3" cy="728.7" r="3.1"/><circle cx="206.8" cy="708.7" r="3.1"/><circle cx="156.6" cy="724.6" r="3.1"/><circle cx="215.9" cy="698.2" r="3.1"/><circle cx="158.5" cy="719.2" r="3.1"/><circle cx="251.3" cy="711.6" r="3.1"/><circle cx="170.9" cy="726.1" r="3.1"/><circle cx="203.8" cy="695.5" r="3.1"/><circle cx="126.3" cy="705.8" r="3.1"/><circle cx="211.9" cy="707.2" r="3.1"/><circle cx="234.1" cy="705.4" r="3.1"/><circle cx="135.7" cy="719.7" r="3.1"/><circle cx="154.7" cy="703.9" r="3.1"/><circle cx="129.1" cy="720.4" r="3.1"/><circle cx="94.5" cy="715.4" r="3.1"/><circle cx="175.8" cy="726.9" r="3.1"/><circle cx="240.6" cy="708.9" r="3.1"/><circle cx="208.2" cy="713.4" r="3.1"/><circle cx="228.1" cy="720.6" r="3.1"/><circle cx="158.0" cy="713.8" r="3.1"/><circle cx="210.4" cy="708.3" r="3.1"/><circle cx="228.1" cy="728.1" r="3.1"/><circle cx="153.2" cy="720.9" r="3.1"/><circle cx="248.2" cy="690.7" r="3.1"/><circle cx="222.2" cy="731.2" r="3.1"/><circle cx="144.2" cy="706.6" r="3.1"/><circle cx="241.6" cy="699.4" r="3.1"/><circle cx="259.3" cy="697.7" r="3.1"/><circle cx="224.8" cy="696.5" r="3.1"/><circle cx="167.1" cy="723.8" r="3.1"/><circle cx="252.1" cy="708.8" r="3.1"/><circle cx="189.7" cy="716.2" r="3.1"/><circle cx="157.3" cy="698.2" r="3.1"/><circle cx="92.4" cy="699.5" r="3.1"/><circle cx="232.1" cy="707.1" r="3.1"/><circle cx="254.1" cy="727.3" r="3.1"/><circle cx="134.7" cy="719.6" r="3.1"/><circle cx="154.0" cy="716.0" r="3.1"/><circle cx="191.7" cy="708.2" r="3.1"/><circle cx="257.6" cy="681.7" r="3.1"/><circle cx="203.1" cy="704.4" r="3.1"/><circle cx="246.3" cy="701.9" r="3.1"/><circle cx="188.1" cy="717.0" r="3.1"/><circle cx="254.5" cy="719.7" r="3.1"/><circle cx="171.4" cy="729.9" r="3.1"/><circle cx="250.9" cy="715.4" r="3.1"/><circle cx="226.0" cy="717.8" r="3.1"/><circle cx="209.8" cy="705.5" r="3.1"/><circle cx="132.2" cy="727.0" r="3.1"/><circle cx="155.7" cy="708.9" r="3.1"/><circle cx="248.9" cy="719.2" r="3.1"/><circle cx="136.2" cy="704.8" r="3.1"/><circle cx="232.9" cy="714.2" r="3.1"/><circle cx="116.7" cy="717.6" r="3.1"/><circle cx="188.7" cy="693.7" r="3.1"/><circle cx="226.2" cy="697.5" r="3.1"/><circle cx="229.5" cy="693.9" r="3.1"/><circle cx="249.6" cy="710.5" r="3.1"/><circle cx="221.4" cy="710.9" r="3.1"/><circle cx="246.5" cy="719.7" r="3.1"/><circle cx="234.2" cy="728.2" r="3.1"/><circle cx="137.1" cy="717.7" r="3.1"/><circle cx="204.5" cy="713.1" r="3.1"/><circle cx="142.3" cy="715.5" r="3.1"/><circle cx="117.4" cy="691.1" r="3.1"/><circle cx="117.8" cy="711.3" r="3.1"/><circle cx="203.5" cy="716.7" r="3.1"/><circle cx="238.4" cy="714.1" r="3.1"/><circle cx="148.1" cy="710.5" r="3.1"/><circle cx="224.0" cy="708.2" r="3.1"/><circle cx="208.9" cy="725.9" r="3.1"/><circle cx="155.6" cy="715.4" r="3.1"/><circle cx="126.6" cy="692.0" r="3.1"/><circle cx="198.6" cy="731.3" r="3.1"/><circle cx="249.6" cy="687.9" r="3.1"/><circle cx="133.8" cy="700.0" r="3.1"/><circle cx="220.6" cy="702.8" r="3.1"/><circle cx="171.9" cy="697.8" r="3.1"/><circle cx="154.1" cy="733.0" r="3.1"/><circle cx="246.8" cy="716.9" r="3.1"/><circle cx="139.1" cy="697.8" r="3.1"/><circle cx="229.3" cy="707.1" r="3.1"/><circle cx="230.8" cy="711.2" r="3.1"/><circle cx="160.0" cy="725.0" r="3.1"/><circle cx="127.8" cy="725.0" r="3.1"/><circle cx="241.3" cy="700.8" r="3.1"/><circle cx="197.7" cy="707.9" r="3.1"/><circle cx="178.3" cy="708.6" r="3.1"/><circle cx="160.5" cy="717.9" r="3.1"/><circle cx="249.5" cy="706.2" r="3.1"/><circle cx="182.3" cy="711.4" r="3.1"/><circle cx="174.0" cy="700.9" r="3.1"/><circle cx="256.3" cy="709.3" r="3.1"/><circle cx="165.2" cy="707.5" r="3.1"/><circle cx="180.7" cy="695.0" r="3.1"/><circle cx="207.1" cy="704.2" r="3.1"/><circle cx="246.1" cy="712.4" r="3.1"/><circle cx="184.1" cy="707.2" r="3.1"/><circle cx="128.4" cy="714.6" r="3.1"/><circle cx="215.2" cy="711.2" r="3.1"/><circle cx="137.7" cy="710.6" r="3.1"/><circle cx="167.2" cy="703.7" r="3.1"/><circle cx="191.3" cy="723.5" r="3.1"/><circle cx="204.3" cy="701.7" r="3.1"/><circle cx="198.6" cy="715.8" r="3.1"/><circle cx="233.3" cy="703.9" r="3.1"/><circle cx="223.0" cy="714.2" r="3.1"/><circle cx="209.7" cy="703.1" r="3.1"/><circle cx="212.9" cy="710.4" r="3.1"/><circle cx="143.7" cy="727.1" r="3.1"/><circle cx="223.2" cy="710.9" r="3.1"/><circle cx="127.3" cy="725.4" r="3.1"/><circle cx="198.2" cy="713.4" r="3.1"/><circle cx="125.3" cy="729.3" r="3.1"/><circle cx="123.9" cy="714.4" r="3.1"/><circle cx="188.2" cy="706.9" r="3.1"/><circle cx="214.4" cy="711.4" r="3.1"/><circle cx="177.6" cy="718.2" r="3.1"/><circle cx="240.2" cy="715.7" r="3.1"/><circle cx="208.3" cy="691.7" r="3.1"/><circle cx="252.5" cy="716.9" r="3.1"/><circle cx="124.0" cy="702.1" r="3.1"/><circle cx="242.6" cy="704.1" r="3.1"/><circle cx="136.5" cy="720.3" r="3.1"/><circle cx="166.0" cy="732.0" r="3.1"/><circle cx="213.1" cy="714.8" r="3.1"/><circle cx="245.9" cy="726.1" r="3.1"/><circle cx="146.2" cy="716.6" r="3.1"/><circle cx="240.4" cy="683.4" r="3.1"/><circle cx="240.7" cy="691.2" r="3.1"/><circle cx="209.1" cy="733.7" r="3.1"/><circle cx="149.8" cy="716.5" r="3.1"/><circle cx="203.1" cy="720.3" r="3.1"/><circle cx="256.9" cy="721.7" r="3.1"/><circle cx="210.9" cy="712.3" r="3.1"/><circle cx="236.3" cy="705.4" r="3.1"/><circle cx="147.6" cy="700.7" r="3.1"/><circle cx="254.1" cy="714.2" r="3.1"/><circle cx="124.3" cy="705.8" r="3.1"/><circle cx="217.4" cy="713.6" r="3.1"/><circle cx="212.9" cy="716.4" r="3.1"/><circle cx="217.6" cy="722.8" r="3.1"/><circle cx="248.6" cy="705.2" r="3.1"/><circle cx="228.0" cy="724.3" r="3.1"/><circle cx="182.7" cy="716.3" r="3.1"/><circle cx="236.0" cy="711.1" r="3.1"/><circle cx="250.8" cy="690.7" r="3.1"/><circle cx="213.7" cy="702.1" r="3.1"/><circle cx="164.7" cy="707.6" r="3.1"/><circle cx="136.2" cy="720.3" r="3.1"/><circle cx="215.7" cy="695.8" r="3.1"/><circle cx="203.0" cy="690.9" r="3.1"/><circle cx="250.8" cy="715.0" r="3.1"/><circle cx="259.5" cy="708.2" r="3.1"/><circle cx="252.0" cy="711.1" r="3.1"/><circle cx="208.2" cy="714.9" r="3.1"/><circle cx="173.6" cy="733.1" r="3.1"/><circle cx="161.5" cy="713.1" r="3.1"/><circle cx="130.9" cy="720.8" r="3.1"/><circle cx="241.2" cy="725.9" r="3.1"/><circle cx="126.8" cy="716.4" r="3.1"/><circle cx="218.9" cy="702.2" r="3.1"/><circle cx="213.9" cy="726.7" r="3.1"/><circle cx="221.8" cy="716.9" r="3.1"/><circle cx="216.7" cy="708.7" r="3.1"/><circle cx="200.2" cy="725.7" r="3.1"/><circle cx="190.1" cy="710.7" r="3.1"/><circle cx="161.8" cy="727.1" r="3.1"/></g>
<line x1="89" y1="715.1" x2="260.4" y2="709.3" stroke="#e0301e" stroke-width="3.6"/>
<text x="329.5" y="443.6" font-size="29" text-anchor="start" fill="#111" font-weight="bold">c</text>
<line x1="409" y1="440.8" x2="409" y2="765.2" stroke="#787878" stroke-width="1.5"/>
<line x1="409" y1="441.1" x2="414" y2="441.1" stroke="#787878" stroke-width="1.2"/>
<line x1="409" y1="491.0" x2="414" y2="491.0" stroke="#787878" stroke-width="1.2"/>
<line x1="409" y1="540.9" x2="414" y2="540.9" stroke="#787878" stroke-width="1.2"/>
<line x1="409" y1="590.8" x2="414" y2="590.8" stroke="#787878" stroke-width="1.2"/>
<line x1="409" y1="640.7" x2="414" y2="640.7" stroke="#787878" stroke-width="1.2"/>
<line x1="409" y1="690.6" x2="414" y2="690.6" stroke="#787878" stroke-width="1.2"/>
<line x1="409" y1="740.5" x2="414" y2="740.5" stroke="#787878" stroke-width="1.2"/>
<text x="398.8" y="445.7" font-size="19" text-anchor="end" fill="#111">0.4</text>
<text x="398.8" y="495.6" font-size="19" text-anchor="end" fill="#111">0.3</text>
<text x="398.8" y="545.5" font-size="19" text-anchor="end" fill="#111">0.2</text>
<text x="398.8" y="595.4" font-size="19" text-anchor="end" fill="#111">0.1</text>
<text x="394.5" y="645.3" font-size="19" text-anchor="end" fill="#111">0</text>
<text x="398.8" y="695.2" font-size="19" text-anchor="end" fill="#111">-0.1</text>
<text x="398.8" y="745.1" font-size="19" text-anchor="end" fill="#111">-0.2</text>
<text x="347.9" y="663.6" font-size="20" text-anchor="start" fill="#111" textLength="151.5" lengthAdjust="spacingAndGlyphs" transform="rotate(-90 347.9 663.6)">Regression Slope</text>
<rect x="447.4" y="549.9" width="24.8" height="90.8" fill="#0b0b0b"/>
<rect x="496.3" y="518.9" width="24.8" height="121.8" fill="#0b0b0b"/>
<rect x="544.6" y="600.5" width="24.8" height="40.2" fill="#0b0b0b"/>
<rect x="593.2" y="594.3" width="24.8" height="46.4" fill="#0b0b0b"/>
<rect x="641.5" y="640.7" width="24.8" height="61.1" fill="#0b0b0b"/>
<g stroke="#343434" stroke-width="1.2"><line x1="459.8" y1="572.8" x2="459.8" y2="526.9"/><line x1="455.8" y1="572.8" x2="463.8" y2="572.8"/><line x1="455.8" y1="526.9" x2="463.8" y2="526.9"/></g>
<g stroke="#343434" stroke-width="1.2"><line x1="508.7" y1="555.9" x2="508.7" y2="482.0"/><line x1="504.7" y1="555.9" x2="512.7" y2="555.9"/><line x1="504.7" y1="482.0" x2="512.7" y2="482.0"/></g>
<g stroke="#343434" stroke-width="1.2"><line x1="557.0" y1="623.7" x2="557.0" y2="578.6"/><line x1="553.0" y1="623.7" x2="561.0" y2="623.7"/><line x1="553.0" y1="578.6" x2="561.0" y2="578.6"/></g>
<g stroke="#343434" stroke-width="1.2"><line x1="605.6" y1="630.0" x2="605.6" y2="560.1"/><line x1="601.6" y1="630.0" x2="609.6" y2="630.0"/><line x1="601.6" y1="560.1" x2="609.6" y2="560.1"/></g>
<g stroke="#343434" stroke-width="1.2"><line x1="653.9" y1="748.0" x2="653.9" y2="655.7"/><line x1="649.9" y1="748.0" x2="657.9" y2="748.0"/><line x1="649.9" y1="655.7" x2="657.9" y2="655.7"/></g>
<g stroke="#6c6c6c" stroke-width="1.5"><line x1="653.9" y1="701.8" x2="653.9" y2="748.0"/><line x1="649.9" y1="748.0" x2="657.9" y2="748.0"/></g>
<line x1="436" y1="640.7" x2="685" y2="640.7" stroke="#6a6a6a" stroke-width="1.2"/>
<path d="M460,761.8V765H654V761.8" fill="none" stroke="#787878" stroke-width="1.2"/>
<line x1="508.6" y1="765" x2="508.6" y2="761.8" stroke="#787878" stroke-width="1.2"/>
<line x1="557" y1="765" x2="557" y2="761.8" stroke="#787878" stroke-width="1.2"/>
<line x1="605.5" y1="765" x2="605.5" y2="761.8" stroke="#787878" stroke-width="1.2"/>
<text x="457.5" y="790.7" font-size="20" text-anchor="middle" fill="#111" textLength="28.2" lengthAdjust="spacingAndGlyphs">LM</text>
<text x="511.3" y="790.7" font-size="20" text-anchor="middle" fill="#111" textLength="20.5" lengthAdjust="spacingAndGlyphs">AL</text>
<text x="560.3" y="790.7" font-size="20" text-anchor="middle" fill="#111" textLength="22.0" lengthAdjust="spacingAndGlyphs">RL</text>
<text x="606.6" y="790.7" font-size="20" text-anchor="middle" fill="#111" textLength="29.1" lengthAdjust="spacingAndGlyphs">AM</text>
<text x="653.8" y="790.7" font-size="20" text-anchor="middle" fill="#111" textLength="29.2" lengthAdjust="spacingAndGlyphs">PM</text>
<text x="511.6" y="827.0" font-size="20" text-anchor="start" fill="#111" textLength="96.6" lengthAdjust="spacingAndGlyphs">Visual Area</text>
<text x="461.0" y="464.8" font-size="23" text-anchor="middle" fill="#111" textLength="26.8" lengthAdjust="spacingAndGlyphs">***</text>
<text x="507.7" y="464.8" font-size="23" text-anchor="middle" fill="#111" textLength="17.6" lengthAdjust="spacingAndGlyphs">**</text>
<path d="M476.8,700.5L486.3,699.5L490.7,698.8L489.9,700.3L488.5,710.5L488.0,720.7L489.2,733.8L489.9,738.2L487.7,738.5L481.9,733.8L477.5,728.7L476.4,720.7L476.1,710.5Z" fill="#66433c" stroke="#1a1a1a" stroke-width="1.1" stroke-linejoin="round"/>
<path d="M481.6,681.6L484.1,686.4L487.0,691.5L491.4,695.1L490.7,698.8L486.3,699.5L477.5,700.3L471.7,701.7L472.4,693.0L474.6,686.4L478.2,682.0Z" fill="#c96a1c" stroke="#1a1a1a" stroke-width="1.1" stroke-linejoin="round"/>
<path d="M481.6,681.6L493.6,673.2L508.9,663.0L510.4,662.3L509.6,668.1L510.4,674.0L511.8,679.1L505.3,682.0L498.0,687.8L492.8,694.4L491.4,695.1L487.0,691.5L484.1,686.4Z" fill="#e8b40a" stroke="#1a1a1a" stroke-width="1.1" stroke-linejoin="round"/>
<path d="M517.7,679.8L530.1,671.8L543.2,663.5L544.7,663.0L544.7,669.6L544.4,681.3L541.8,690.0L530.1,684.9L518.4,681.3Z" fill="#457aa8" stroke="#1a1a1a" stroke-width="1.1" stroke-linejoin="round"/>
<path d="M518.4,681.3L530.1,684.9L541.8,690.0L543.9,686.4L545.4,703.2L545.4,716.3L543.9,728.0L535.9,714.9L525.7,697.3L518.4,683.5Z" fill="#7d27ad" stroke="#1a1a1a" stroke-width="1.1" stroke-linejoin="round"/>
<path d="M511.8,679.1L516.2,679.8L518.4,683.5L525.7,697.3L535.9,714.9L543.9,728.0L544.7,730.9L543.2,735.3L538.8,739.7L522.8,745.5L509.6,747.3L502.3,746.7L496.5,744.1L491.4,739.7L489.2,733.8L488.0,720.7L488.5,710.5L489.9,700.3L492.8,694.4L498.0,687.8L505.3,682.0Z" fill="#686766" stroke="#1a1a1a" stroke-width="1.1" stroke-linejoin="round"/>
<text x="511.6" y="722.0" font-size="16" text-anchor="middle" fill="#fff" font-weight="bold">V1</text>
<text x="459.8" y="673.6" font-size="16" text-anchor="end" fill="#111" font-weight="bold">RL</text>
<text x="461.0" y="703.8" font-size="16" text-anchor="end" fill="#111" font-weight="bold">AL</text>
<text x="459.8" y="733.0" font-size="16" text-anchor="end" fill="#111" font-weight="bold">LM</text>
<text x="559.0" y="676.5" font-size="16" text-anchor="start" fill="#111" font-weight="bold">AM</text>
<text x="559.5" y="709.0" font-size="16" text-anchor="start" fill="#111" font-weight="bold">PM</text>
<line x1="462.3" y1="672.8" x2="498.2" y2="681.8" stroke="#111" stroke-width="1.1"/>
<line x1="461" y1="696.7" x2="481.6" y2="692.2" stroke="#111" stroke-width="1.1"/>
<line x1="463" y1="727.4" x2="479.6" y2="715" stroke="#111" stroke-width="1.1"/>
<line x1="554.8" y1="671.8" x2="531.7" y2="677.8" stroke="#111" stroke-width="1.1"/>
<line x1="553.3" y1="705.8" x2="539.2" y2="709" stroke="#111" stroke-width="1.1"/>
</svg>
</body></html>
